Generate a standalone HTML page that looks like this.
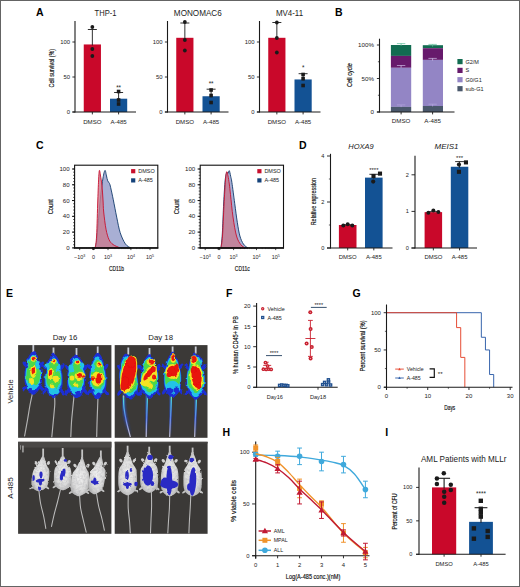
<!DOCTYPE html>
<html><head><meta charset="utf-8"><title>Figure</title>
<style>
html,body{margin:0;padding:0;background:#fff;}
body{width:520px;height:587px;overflow:hidden;}
svg{display:block;font-family:"Liberation Sans",Arial,sans-serif;}
</style></head><body>
<svg width="520" height="587" viewBox="0 0 520 587">
<defs>
<filter id="b1" x="-20%" y="-20%" width="140%" height="140%"><feTurbulence type="fractalNoise" baseFrequency="0.16" numOctaves="2" seed="7" result="n"/><feDisplacementMap in="SourceGraphic" in2="n" scale="3.4" xChannelSelector="R" yChannelSelector="G"/><feGaussianBlur stdDeviation="0.5"/></filter>
<filter id="w1" x="-20%" y="-20%" width="140%" height="140%"><feTurbulence type="fractalNoise" baseFrequency="0.2" numOctaves="2" seed="3" result="n"/><feDisplacementMap in="SourceGraphic" in2="n" scale="2.2" xChannelSelector="R" yChannelSelector="G"/><feGaussianBlur stdDeviation="0.4"/></filter>
<filter id="b2" x="-20%" y="-20%" width="140%" height="140%"><feGaussianBlur stdDeviation="0.9"/></filter>
<filter id="b0" x="-20%" y="-20%" width="140%" height="140%"><feGaussianBlur stdDeviation="0.35"/></filter>
<filter id="furf" x="0" y="0" width="100%" height="100%"><feTurbulence type="fractalNoise" baseFrequency="0.42" numOctaves="2" seed="5" result="t"/><feColorMatrix in="t" type="matrix" values="0 0 0 0 0.45  0 0 0 0 0.45  0 0 0 0 0.47  1.3 0 0 0 -0.48" result="dark"/><feComposite in="dark" in2="SourceGraphic" operator="in" result="tex"/><feMerge><feMergeNode in="SourceGraphic"/><feMergeNode in="tex"/></feMerge></filter>
<filter id="bgn" x="0" y="0" width="100%" height="100%"><feTurbulence type="fractalNoise" baseFrequency="0.3" numOctaves="2" seed="11" result="t"/><feColorMatrix in="t" type="matrix" values="0 0 0 0 0.42  0 0 0 0 0.42  0 0 0 0 0.42  0.8 0 0 0 -0.3" result="l"/><feComposite in="l" in2="SourceGraphic" operator="in" result="tex"/><feMerge><feMergeNode in="SourceGraphic"/><feMergeNode in="tex"/></feMerge></filter>
<linearGradient id="tg" gradientUnits="userSpaceOnUse" x1="0" y1="394" x2="0" y2="437"><stop offset="0" stop-color="#7be06a"/><stop offset="0.18" stop-color="#4fd3e6"/><stop offset="0.55" stop-color="#5d83ea"/><stop offset="0.85" stop-color="#a9acd8"/><stop offset="1" stop-color="#c4c4d4"/></linearGradient>
<linearGradient id="tgg" gradientUnits="userSpaceOnUse" x1="0" y1="394" x2="0" y2="437"><stop offset="0" stop-color="#2a62e0" stop-opacity="0.9"/><stop offset="0.6" stop-color="#2a4fd8" stop-opacity="0.7"/><stop offset="1" stop-color="#2a4fd8" stop-opacity="0"/></linearGradient>
<radialGradient id="fur" cx="50%" cy="50%" r="60%"><stop offset="0" stop-color="#f2f2f2"/><stop offset="0.65" stop-color="#dadada"/><stop offset="1" stop-color="#a8a8a8"/></radialGradient>
</defs>
<rect x="0" y="0" width="520" height="587" fill="#fff"/>
<text transform="translate(36.00,15.50)" font-size="10.5" text-anchor="start" fill="#000" font-weight="bold" font-style="normal" >A</text>
<text transform="translate(105.50,15.50) scale(0.9244284979356013,1)" font-size="8.2" text-anchor="middle" fill="#222" font-weight="normal" font-style="normal" >THP-1</text>
<rect x="83.75" y="44.45" width="17.20" height="67.55" fill="#c9082a" />
<rect x="110.00" y="98.70" width="17.20" height="13.30" fill="#135294" />
<line x1="75.00" y1="21.00" x2="75.00" y2="112.50" stroke="#1a1a1a" stroke-width="1.1" />
<line x1="72.40" y1="112.00" x2="136.00" y2="112.00" stroke="#1a1a1a" stroke-width="1.1" />
<line x1="72.40" y1="112.00" x2="75.00" y2="112.00" stroke="#1a1a1a" stroke-width="0.9" />
<text transform="translate(70.00,114.10)" font-size="5.9" text-anchor="end" fill="#222" font-weight="normal" font-style="normal" >0</text>
<line x1="72.40" y1="77.00" x2="75.00" y2="77.00" stroke="#1a1a1a" stroke-width="0.9" />
<text transform="translate(70.00,79.10)" font-size="5.9" text-anchor="end" fill="#222" font-weight="normal" font-style="normal" >50</text>
<line x1="72.40" y1="42.00" x2="75.00" y2="42.00" stroke="#1a1a1a" stroke-width="0.9" />
<text transform="translate(70.00,44.10)" font-size="5.9" text-anchor="end" fill="#222" font-weight="normal" font-style="normal" >100</text>
<line x1="92.35" y1="112.00" x2="92.35" y2="114.40" stroke="#1a1a1a" stroke-width="0.9" />
<line x1="118.60" y1="112.00" x2="118.60" y2="114.40" stroke="#1a1a1a" stroke-width="0.9" />
<text transform="translate(92.35,123.80)" font-size="6.1" text-anchor="middle" fill="#222" font-weight="normal" font-style="normal" >DMSO</text>
<text transform="translate(118.60,123.80)" font-size="6.1" text-anchor="middle" fill="#222" font-weight="normal" font-style="normal" >A-485</text>
<line x1="92.35" y1="29.50" x2="92.35" y2="45.45" stroke="#1a1a1a" stroke-width="0.9" />
<line x1="87.85" y1="29.50" x2="96.85" y2="29.50" stroke="#1a1a1a" stroke-width="0.9" />
<circle cx="92.35" cy="27.00" r="1.90" fill="#1a1a1a" />
<circle cx="92.35" cy="49.00" r="1.90" fill="#1a1a1a" />
<circle cx="92.35" cy="56.00" r="1.90" fill="#1a1a1a" />
<line x1="118.60" y1="92.50" x2="118.60" y2="99.70" stroke="#1a1a1a" stroke-width="0.9" />
<line x1="114.10" y1="92.50" x2="123.10" y2="92.50" stroke="#1a1a1a" stroke-width="0.9" />
<rect x="116.80" y="89.70" width="3.60" height="3.60" fill="#1a1a1a" />
<rect x="116.80" y="98.20" width="3.60" height="3.60" fill="#1a1a1a" />
<rect x="116.80" y="102.20" width="3.60" height="3.60" fill="#1a1a1a" />
<text transform="translate(118.60,89.80)" font-size="6.3" text-anchor="middle" fill="#222" font-weight="normal" font-style="normal" >**</text>
<text transform="translate(197.80,15.50) scale(0.9939881834477673,1)" font-size="8.2" text-anchor="middle" fill="#222" font-weight="normal" font-style="normal" >MONOMAC6</text>
<rect x="176.25" y="37.80" width="17.20" height="74.20" fill="#c9082a" />
<rect x="202.50" y="96.25" width="17.20" height="15.75" fill="#135294" />
<line x1="167.50" y1="21.00" x2="167.50" y2="112.50" stroke="#1a1a1a" stroke-width="1.1" />
<line x1="164.90" y1="112.00" x2="228.50" y2="112.00" stroke="#1a1a1a" stroke-width="1.1" />
<line x1="164.90" y1="112.00" x2="167.50" y2="112.00" stroke="#1a1a1a" stroke-width="0.9" />
<text transform="translate(162.50,114.10)" font-size="5.9" text-anchor="end" fill="#222" font-weight="normal" font-style="normal" >0</text>
<line x1="164.90" y1="77.00" x2="167.50" y2="77.00" stroke="#1a1a1a" stroke-width="0.9" />
<text transform="translate(162.50,79.10)" font-size="5.9" text-anchor="end" fill="#222" font-weight="normal" font-style="normal" >50</text>
<line x1="164.90" y1="42.00" x2="167.50" y2="42.00" stroke="#1a1a1a" stroke-width="0.9" />
<text transform="translate(162.50,44.10)" font-size="5.9" text-anchor="end" fill="#222" font-weight="normal" font-style="normal" >100</text>
<line x1="184.85" y1="112.00" x2="184.85" y2="114.40" stroke="#1a1a1a" stroke-width="0.9" />
<line x1="211.10" y1="112.00" x2="211.10" y2="114.40" stroke="#1a1a1a" stroke-width="0.9" />
<text transform="translate(184.85,123.80)" font-size="6.1" text-anchor="middle" fill="#222" font-weight="normal" font-style="normal" >DMSO</text>
<text transform="translate(211.10,123.80)" font-size="6.1" text-anchor="middle" fill="#222" font-weight="normal" font-style="normal" >A-485</text>
<line x1="184.85" y1="23.00" x2="184.85" y2="38.80" stroke="#1a1a1a" stroke-width="0.9" />
<line x1="180.35" y1="23.00" x2="189.35" y2="23.00" stroke="#1a1a1a" stroke-width="0.9" />
<circle cx="184.85" cy="22.00" r="1.90" fill="#1a1a1a" />
<circle cx="184.85" cy="40.00" r="1.90" fill="#1a1a1a" />
<circle cx="184.85" cy="50.50" r="1.90" fill="#1a1a1a" />
<line x1="211.10" y1="89.20" x2="211.10" y2="97.25" stroke="#1a1a1a" stroke-width="0.9" />
<line x1="206.60" y1="89.20" x2="215.60" y2="89.20" stroke="#1a1a1a" stroke-width="0.9" />
<rect x="209.30" y="88.20" width="3.60" height="3.60" fill="#1a1a1a" />
<rect x="209.30" y="93.70" width="3.60" height="3.60" fill="#1a1a1a" />
<rect x="209.30" y="100.70" width="3.60" height="3.60" fill="#1a1a1a" />
<text transform="translate(211.10,86.40)" font-size="6.3" text-anchor="middle" fill="#222" font-weight="normal" font-style="normal" >**</text>
<text transform="translate(289.50,15.50) scale(0.9679144801296188,1)" font-size="8.2" text-anchor="middle" fill="#222" font-weight="normal" font-style="normal" >MV4-11</text>
<rect x="268.25" y="37.80" width="17.20" height="74.20" fill="#c9082a" />
<rect x="294.50" y="79.45" width="17.20" height="32.55" fill="#135294" />
<line x1="259.50" y1="21.00" x2="259.50" y2="112.50" stroke="#1a1a1a" stroke-width="1.1" />
<line x1="256.90" y1="112.00" x2="320.50" y2="112.00" stroke="#1a1a1a" stroke-width="1.1" />
<line x1="256.90" y1="112.00" x2="259.50" y2="112.00" stroke="#1a1a1a" stroke-width="0.9" />
<text transform="translate(254.50,114.10)" font-size="5.9" text-anchor="end" fill="#222" font-weight="normal" font-style="normal" >0</text>
<line x1="256.90" y1="77.00" x2="259.50" y2="77.00" stroke="#1a1a1a" stroke-width="0.9" />
<text transform="translate(254.50,79.10)" font-size="5.9" text-anchor="end" fill="#222" font-weight="normal" font-style="normal" >50</text>
<line x1="256.90" y1="42.00" x2="259.50" y2="42.00" stroke="#1a1a1a" stroke-width="0.9" />
<text transform="translate(254.50,44.10)" font-size="5.9" text-anchor="end" fill="#222" font-weight="normal" font-style="normal" >100</text>
<line x1="276.85" y1="112.00" x2="276.85" y2="114.40" stroke="#1a1a1a" stroke-width="0.9" />
<line x1="303.10" y1="112.00" x2="303.10" y2="114.40" stroke="#1a1a1a" stroke-width="0.9" />
<text transform="translate(276.85,123.80)" font-size="6.1" text-anchor="middle" fill="#222" font-weight="normal" font-style="normal" >DMSO</text>
<text transform="translate(303.10,123.80)" font-size="6.1" text-anchor="middle" fill="#222" font-weight="normal" font-style="normal" >A-485</text>
<line x1="276.85" y1="22.50" x2="276.85" y2="38.80" stroke="#1a1a1a" stroke-width="0.9" />
<line x1="272.35" y1="22.50" x2="281.35" y2="22.50" stroke="#1a1a1a" stroke-width="0.9" />
<circle cx="276.85" cy="22.50" r="1.90" fill="#1a1a1a" />
<circle cx="276.85" cy="38.00" r="1.90" fill="#1a1a1a" />
<circle cx="276.85" cy="52.50" r="1.90" fill="#1a1a1a" />
<line x1="303.10" y1="73.70" x2="303.10" y2="80.45" stroke="#1a1a1a" stroke-width="0.9" />
<line x1="298.60" y1="73.70" x2="307.60" y2="73.70" stroke="#1a1a1a" stroke-width="0.9" />
<rect x="301.30" y="72.70" width="3.60" height="3.60" fill="#1a1a1a" />
<rect x="301.30" y="76.90" width="3.60" height="3.60" fill="#1a1a1a" />
<rect x="301.30" y="83.70" width="3.60" height="3.60" fill="#1a1a1a" />
<text transform="translate(303.10,70.10)" font-size="6.3" text-anchor="middle" fill="#222" font-weight="normal" font-style="normal" >*</text>
<text transform="translate(54.40,68.20) rotate(-90) scale(0.6851,1)" font-size="7.8" text-anchor="middle" fill="#111" stroke="#111" stroke-width="0.18" stroke-linejoin="round">Cell survival (%)</text>
<text transform="translate(335.00,15.50)" font-size="10.5" text-anchor="start" fill="#000" font-weight="bold" font-style="normal" >B</text>
<rect x="390.90" y="45.00" width="20.30" height="10.90" fill="#126c51" />
<rect x="390.90" y="55.90" width="20.30" height="11.90" fill="#671a6c" />
<rect x="390.90" y="67.80" width="20.30" height="39.10" fill="#9385c5" />
<rect x="390.90" y="106.90" width="20.30" height="5.10" fill="#4a586c" />
<rect x="422.80" y="45.20" width="20.20" height="3.00" fill="#126c51" />
<rect x="422.80" y="48.20" width="20.20" height="11.70" fill="#671a6c" />
<rect x="422.80" y="59.90" width="20.20" height="46.10" fill="#9385c5" />
<rect x="422.80" y="106.00" width="20.20" height="6.00" fill="#4a586c" />
<line x1="396.90" y1="43.60" x2="405.30" y2="43.60" stroke="#5bbf98" stroke-width="0.7" />
<line x1="401.10" y1="43.60" x2="401.10" y2="45.80" stroke="#5bbf98" stroke-width="0.8" />
<line x1="396.90" y1="65.50" x2="405.30" y2="65.50" stroke="#cdbde6" stroke-width="0.7" />
<line x1="401.10" y1="65.50" x2="401.10" y2="67.70" stroke="#cdbde6" stroke-width="0.8" />
<line x1="396.90" y1="104.90" x2="405.30" y2="104.90" stroke="#b3a6dc" stroke-width="0.7" />
<line x1="401.10" y1="104.90" x2="401.10" y2="107.10" stroke="#b3a6dc" stroke-width="0.8" />
<line x1="428.40" y1="44.40" x2="436.80" y2="44.40" stroke="#5bbf98" stroke-width="0.7" />
<line x1="432.60" y1="44.40" x2="432.60" y2="46.60" stroke="#5bbf98" stroke-width="0.8" />
<line x1="428.40" y1="58.40" x2="436.80" y2="58.40" stroke="#cdbde6" stroke-width="0.7" />
<line x1="432.60" y1="58.40" x2="432.60" y2="60.60" stroke="#cdbde6" stroke-width="0.8" />
<line x1="428.40" y1="104.20" x2="436.80" y2="104.20" stroke="#b3a6dc" stroke-width="0.7" />
<line x1="432.60" y1="104.20" x2="432.60" y2="106.40" stroke="#b3a6dc" stroke-width="0.8" />
<line x1="379.50" y1="38.70" x2="379.50" y2="112.50" stroke="#1a1a1a" stroke-width="1.1" />
<line x1="376.90" y1="112.00" x2="454.50" y2="112.00" stroke="#1a1a1a" stroke-width="1.1" />
<line x1="376.90" y1="112.00" x2="379.50" y2="112.00" stroke="#1a1a1a" stroke-width="0.9" />
<text transform="translate(373.90,114.10)" font-size="6.2" text-anchor="end" fill="#222" font-weight="normal" font-style="normal" >0</text>
<line x1="376.90" y1="78.50" x2="379.50" y2="78.50" stroke="#1a1a1a" stroke-width="0.9" />
<text transform="translate(373.90,80.60)" font-size="6.2" text-anchor="end" fill="#222" font-weight="normal" font-style="normal" >50%</text>
<line x1="376.90" y1="45.00" x2="379.50" y2="45.00" stroke="#1a1a1a" stroke-width="0.9" />
<text transform="translate(373.90,47.10)" font-size="6.2" text-anchor="end" fill="#222" font-weight="normal" font-style="normal" >100%</text>
<line x1="377.90" y1="95.25" x2="379.50" y2="95.25" stroke="#1a1a1a" stroke-width="0.7" />
<line x1="377.90" y1="61.75" x2="379.50" y2="61.75" stroke="#1a1a1a" stroke-width="0.7" />
<line x1="401.10" y1="112.00" x2="401.10" y2="114.40" stroke="#1a1a1a" stroke-width="0.9" />
<text transform="translate(401.10,123.40)" font-size="6.2" text-anchor="middle" fill="#222" font-weight="normal" font-style="normal" >DMSO</text>
<line x1="432.60" y1="112.00" x2="432.60" y2="114.40" stroke="#1a1a1a" stroke-width="0.9" />
<text transform="translate(432.60,123.40)" font-size="6.2" text-anchor="middle" fill="#222" font-weight="normal" font-style="normal" >A-485</text>
<text transform="translate(351.90,75.10) rotate(-90) scale(0.7131,1)" font-size="7.8" text-anchor="middle" fill="#111" stroke="#111" stroke-width="0.18" stroke-linejoin="round">Cell cycle</text>
<rect x="457.40" y="59.00" width="5.20" height="5.20" fill="#126c51" />
<text transform="translate(465.50,63.50)" font-size="5.5" text-anchor="start" fill="#222" font-weight="normal" font-style="normal" >G2/M</text>
<rect x="457.40" y="67.80" width="5.20" height="5.20" fill="#671a6c" />
<text transform="translate(465.50,72.30)" font-size="5.5" text-anchor="start" fill="#222" font-weight="normal" font-style="normal" >S</text>
<rect x="457.40" y="77.10" width="5.20" height="5.20" fill="#9385c5" />
<text transform="translate(465.50,81.60)" font-size="5.5" text-anchor="start" fill="#222" font-weight="normal" font-style="normal" >G0/G1</text>
<rect x="457.40" y="86.10" width="5.20" height="5.20" fill="#4a586c" />
<text transform="translate(465.50,90.60)" font-size="5.5" text-anchor="start" fill="#222" font-weight="normal" font-style="normal" >sub-G1</text>
<text transform="translate(36.00,149.00)" font-size="10.5" text-anchor="start" fill="#000" font-weight="bold" font-style="normal" >C</text>
<path d="M95.10,247.90 C95.32,247.08 95.97,246.15 96.40,243.00 C96.83,239.85 97.23,234.17 97.70,229.00 C98.17,223.83 98.68,217.73 99.20,212.00 C99.72,206.27 100.17,200.27 100.80,194.60 C101.43,188.93 102.30,182.03 103.00,178.00 C103.70,173.97 104.42,170.73 105.00,170.40 C105.58,170.07 106.05,174.27 106.50,176.00 C106.95,177.73 107.20,179.55 107.70,180.80 C108.20,182.05 109.00,182.35 109.50,183.50 C110.00,184.65 110.07,184.98 110.70,187.70 C111.33,190.42 112.30,194.90 113.30,199.80 C114.30,204.70 115.55,211.62 116.70,217.10 C117.85,222.58 118.75,228.23 120.20,232.70 C121.65,237.17 123.67,241.37 125.40,243.90 C127.13,246.43 129.73,247.23 130.60,247.90 Z" fill="#9ea6cf" fill-opacity="0.9" stroke="#123a6b" stroke-width="0.9" stroke-linejoin="round"/>
<path d="M95.10,247.90 C95.35,245.92 96.15,243.98 96.60,236.00 C97.05,228.02 97.45,209.67 97.80,200.00 C98.15,190.33 98.43,182.93 98.70,178.00 C98.97,173.07 99.12,170.90 99.40,170.40 C99.68,169.90 99.97,172.40 100.40,175.00 C100.83,177.60 101.57,181.83 102.00,186.00 C102.43,190.17 102.72,195.67 103.00,200.00 C103.28,204.33 103.20,207.13 103.70,212.00 C104.20,216.87 105.12,224.60 106.00,229.20 C106.88,233.80 107.83,237.05 109.00,239.60 C110.17,242.15 111.17,243.12 113.00,244.50 C114.83,245.88 118.83,247.33 120.00,247.90 Z" fill="#c87a8e" fill-opacity="0.8" stroke="#c8102e" stroke-width="0.9" stroke-linejoin="round"/>
<rect x="74.6" y="165.2" width="83.20" height="82.70" fill="none" stroke="#111" stroke-width="1.1"/>
<line x1="74.10" y1="247.90" x2="158.30" y2="247.90" stroke="#111" stroke-width="1.5" />
<line x1="72.00" y1="247.90" x2="74.60" y2="247.90" stroke="#111" stroke-width="1.0" />
<text transform="translate(69.60,250.00)" font-size="6.1" text-anchor="end" fill="#222" font-weight="normal" font-style="normal" >0</text>
<line x1="72.00" y1="232.12" x2="74.60" y2="232.12" stroke="#111" stroke-width="1.0" />
<text transform="translate(69.60,234.22)" font-size="6.1" text-anchor="end" fill="#222" font-weight="normal" font-style="normal" >20</text>
<line x1="72.00" y1="216.34" x2="74.60" y2="216.34" stroke="#111" stroke-width="1.0" />
<text transform="translate(69.60,218.44)" font-size="6.1" text-anchor="end" fill="#222" font-weight="normal" font-style="normal" >40</text>
<line x1="72.00" y1="200.56" x2="74.60" y2="200.56" stroke="#111" stroke-width="1.0" />
<text transform="translate(69.60,202.66)" font-size="6.1" text-anchor="end" fill="#222" font-weight="normal" font-style="normal" >60</text>
<line x1="72.00" y1="184.78" x2="74.60" y2="184.78" stroke="#111" stroke-width="1.0" />
<text transform="translate(69.60,186.88)" font-size="6.1" text-anchor="end" fill="#222" font-weight="normal" font-style="normal" >80</text>
<line x1="72.00" y1="169.00" x2="74.60" y2="169.00" stroke="#111" stroke-width="1.0" />
<text transform="translate(69.60,171.10)" font-size="6.1" text-anchor="end" fill="#222" font-weight="normal" font-style="normal" >100</text>
<line x1="73.10" y1="247.90" x2="74.60" y2="247.90" stroke="#111" stroke-width="0.7" />
<line x1="73.10" y1="244.74" x2="74.60" y2="244.74" stroke="#111" stroke-width="0.7" />
<line x1="73.10" y1="241.59" x2="74.60" y2="241.59" stroke="#111" stroke-width="0.7" />
<line x1="73.10" y1="238.43" x2="74.60" y2="238.43" stroke="#111" stroke-width="0.7" />
<line x1="73.10" y1="235.28" x2="74.60" y2="235.28" stroke="#111" stroke-width="0.7" />
<line x1="73.10" y1="232.12" x2="74.60" y2="232.12" stroke="#111" stroke-width="0.7" />
<line x1="73.10" y1="228.96" x2="74.60" y2="228.96" stroke="#111" stroke-width="0.7" />
<line x1="73.10" y1="225.81" x2="74.60" y2="225.81" stroke="#111" stroke-width="0.7" />
<line x1="73.10" y1="222.65" x2="74.60" y2="222.65" stroke="#111" stroke-width="0.7" />
<line x1="73.10" y1="219.50" x2="74.60" y2="219.50" stroke="#111" stroke-width="0.7" />
<line x1="73.10" y1="216.34" x2="74.60" y2="216.34" stroke="#111" stroke-width="0.7" />
<line x1="73.10" y1="213.18" x2="74.60" y2="213.18" stroke="#111" stroke-width="0.7" />
<line x1="73.10" y1="210.03" x2="74.60" y2="210.03" stroke="#111" stroke-width="0.7" />
<line x1="73.10" y1="206.87" x2="74.60" y2="206.87" stroke="#111" stroke-width="0.7" />
<line x1="73.10" y1="203.72" x2="74.60" y2="203.72" stroke="#111" stroke-width="0.7" />
<line x1="73.10" y1="200.56" x2="74.60" y2="200.56" stroke="#111" stroke-width="0.7" />
<line x1="73.10" y1="197.40" x2="74.60" y2="197.40" stroke="#111" stroke-width="0.7" />
<line x1="73.10" y1="194.25" x2="74.60" y2="194.25" stroke="#111" stroke-width="0.7" />
<line x1="73.10" y1="191.09" x2="74.60" y2="191.09" stroke="#111" stroke-width="0.7" />
<line x1="73.10" y1="187.94" x2="74.60" y2="187.94" stroke="#111" stroke-width="0.7" />
<line x1="73.10" y1="184.78" x2="74.60" y2="184.78" stroke="#111" stroke-width="0.7" />
<line x1="73.10" y1="181.62" x2="74.60" y2="181.62" stroke="#111" stroke-width="0.7" />
<line x1="73.10" y1="178.47" x2="74.60" y2="178.47" stroke="#111" stroke-width="0.7" />
<line x1="73.10" y1="175.31" x2="74.60" y2="175.31" stroke="#111" stroke-width="0.7" />
<line x1="73.10" y1="172.16" x2="74.60" y2="172.16" stroke="#111" stroke-width="0.7" />
<line x1="73.10" y1="169.00" x2="74.60" y2="169.00" stroke="#111" stroke-width="0.7" />
<line x1="79.70" y1="247.90" x2="79.70" y2="250.10" stroke="#111" stroke-width="0.8" />
<text transform="translate(79.70,259)" font-size="5.4" text-anchor="middle" fill="#222">−10<tspan font-size="3.6" dy="-2">3</tspan></text>
<line x1="93.40" y1="247.90" x2="93.40" y2="250.10" stroke="#111" stroke-width="0.8" />
<text transform="translate(93.40,259.00)" font-size="5.4" text-anchor="middle" fill="#222" font-weight="normal" font-style="normal" >0</text>
<line x1="108.00" y1="247.90" x2="108.00" y2="250.10" stroke="#111" stroke-width="0.8" />
<text transform="translate(108.00,259)" font-size="5.4" text-anchor="middle" fill="#222">10<tspan font-size="3.6" dy="-2">3</tspan></text>
<line x1="130.90" y1="247.90" x2="130.90" y2="250.10" stroke="#111" stroke-width="0.8" />
<text transform="translate(130.90,259)" font-size="5.4" text-anchor="middle" fill="#222">10<tspan font-size="3.6" dy="-2">4</tspan></text>
<line x1="150.00" y1="247.90" x2="150.00" y2="250.10" stroke="#111" stroke-width="0.8" />
<text transform="translate(150.00,259)" font-size="5.4" text-anchor="middle" fill="#222">10<tspan font-size="3.6" dy="-2">5</tspan></text>
<line x1="114.89" y1="247.90" x2="114.89" y2="249.10" stroke="#111" stroke-width="0.4" />
<line x1="118.93" y1="247.90" x2="118.93" y2="249.10" stroke="#111" stroke-width="0.4" />
<line x1="121.79" y1="247.90" x2="121.79" y2="249.10" stroke="#111" stroke-width="0.4" />
<line x1="124.01" y1="247.90" x2="124.01" y2="249.10" stroke="#111" stroke-width="0.4" />
<line x1="125.82" y1="247.90" x2="125.82" y2="249.10" stroke="#111" stroke-width="0.4" />
<line x1="127.35" y1="247.90" x2="127.35" y2="249.10" stroke="#111" stroke-width="0.4" />
<line x1="128.68" y1="247.90" x2="128.68" y2="249.10" stroke="#111" stroke-width="0.4" />
<line x1="129.85" y1="247.90" x2="129.85" y2="249.10" stroke="#111" stroke-width="0.4" />
<line x1="136.65" y1="247.90" x2="136.65" y2="249.10" stroke="#111" stroke-width="0.4" />
<line x1="140.01" y1="247.90" x2="140.01" y2="249.10" stroke="#111" stroke-width="0.4" />
<line x1="142.40" y1="247.90" x2="142.40" y2="249.10" stroke="#111" stroke-width="0.4" />
<line x1="144.25" y1="247.90" x2="144.25" y2="249.10" stroke="#111" stroke-width="0.4" />
<line x1="145.76" y1="247.90" x2="145.76" y2="249.10" stroke="#111" stroke-width="0.4" />
<line x1="147.04" y1="247.90" x2="147.04" y2="249.10" stroke="#111" stroke-width="0.4" />
<line x1="148.15" y1="247.90" x2="148.15" y2="249.10" stroke="#111" stroke-width="0.4" />
<line x1="149.13" y1="247.90" x2="149.13" y2="249.10" stroke="#111" stroke-width="0.4" />
<line x1="94.86" y1="247.90" x2="94.86" y2="248.90" stroke="#111" stroke-width="0.35" />
<line x1="92.03" y1="247.90" x2="92.03" y2="248.90" stroke="#111" stroke-width="0.35" />
<line x1="96.32" y1="247.90" x2="96.32" y2="248.90" stroke="#111" stroke-width="0.35" />
<line x1="90.66" y1="247.90" x2="90.66" y2="248.90" stroke="#111" stroke-width="0.35" />
<line x1="97.78" y1="247.90" x2="97.78" y2="248.90" stroke="#111" stroke-width="0.35" />
<line x1="89.29" y1="247.90" x2="89.29" y2="248.90" stroke="#111" stroke-width="0.35" />
<line x1="99.24" y1="247.90" x2="99.24" y2="248.90" stroke="#111" stroke-width="0.35" />
<line x1="87.92" y1="247.90" x2="87.92" y2="248.90" stroke="#111" stroke-width="0.35" />
<line x1="100.70" y1="247.90" x2="100.70" y2="248.90" stroke="#111" stroke-width="0.35" />
<line x1="86.55" y1="247.90" x2="86.55" y2="248.90" stroke="#111" stroke-width="0.35" />
<line x1="102.16" y1="247.90" x2="102.16" y2="248.90" stroke="#111" stroke-width="0.35" />
<line x1="85.18" y1="247.90" x2="85.18" y2="248.90" stroke="#111" stroke-width="0.35" />
<line x1="103.62" y1="247.90" x2="103.62" y2="248.90" stroke="#111" stroke-width="0.35" />
<line x1="83.81" y1="247.90" x2="83.81" y2="248.90" stroke="#111" stroke-width="0.35" />
<line x1="105.08" y1="247.90" x2="105.08" y2="248.90" stroke="#111" stroke-width="0.35" />
<line x1="82.44" y1="247.90" x2="82.44" y2="248.90" stroke="#111" stroke-width="0.35" />
<line x1="106.54" y1="247.90" x2="106.54" y2="248.90" stroke="#111" stroke-width="0.35" />
<line x1="81.07" y1="247.90" x2="81.07" y2="248.90" stroke="#111" stroke-width="0.35" />
<rect x="92.00" y="247.00" width="2.80" height="2.60" fill="#111" />
<text transform="translate(116.40,271.00) scale(0.6329,1)" font-size="7.8" text-anchor="middle" fill="#111" stroke="#111" stroke-width="0.18" stroke-linejoin="round">CD11b</text>
<text transform="translate(53.00,206.70) rotate(-90) scale(0.7351,1)" font-size="7.8" text-anchor="middle" fill="#111" stroke="#111" stroke-width="0.18" stroke-linejoin="round">Count</text>
<rect x="131.10" y="169.10" width="4.20" height="4.20" fill="#c8102e" />
<text transform="translate(138.20,173.20)" font-size="5.5" text-anchor="start" fill="#222" font-weight="normal" font-style="normal" >DMSO</text>
<rect x="131.10" y="178.30" width="4.20" height="4.20" fill="#14427a" />
<text transform="translate(138.20,182.40)" font-size="5.5" text-anchor="start" fill="#222" font-weight="normal" font-style="normal" >A-485</text>
<path d="M221.00,247.90 C221.22,245.58 221.85,241.48 222.30,234.00 C222.75,226.52 223.22,212.00 223.70,203.00 C224.18,194.00 224.68,185.08 225.20,180.00 C225.72,174.92 226.33,173.58 226.80,172.50 C227.27,171.42 227.58,173.80 228.00,173.50 C228.42,173.20 228.87,170.28 229.30,170.70 C229.73,171.12 230.17,174.03 230.60,176.00 C231.03,177.97 231.22,177.95 231.90,182.50 C232.58,187.05 233.80,196.67 234.70,203.30 C235.60,209.93 236.43,216.85 237.30,222.30 C238.17,227.75 238.88,232.38 239.90,236.00 C240.92,239.62 242.12,242.02 243.40,244.00 C244.68,245.98 246.90,247.25 247.60,247.90 Z" fill="#9ea6cf" fill-opacity="0.9" stroke="#123a6b" stroke-width="0.9" stroke-linejoin="round"/>
<path d="M221.00,247.90 C221.25,245.92 222.00,243.15 222.50,236.00 C223.00,228.85 223.50,214.33 224.00,205.00 C224.50,195.67 225.05,185.53 225.50,180.00 C225.95,174.47 226.28,172.47 226.70,171.80 C227.12,171.13 227.57,173.97 228.00,176.00 C228.43,178.03 228.88,180.90 229.30,184.00 C229.72,187.10 229.88,189.10 230.50,194.60 C231.12,200.10 232.00,210.10 233.00,217.00 C234.00,223.90 235.18,231.37 236.50,236.00 C237.82,240.63 239.45,242.82 240.90,244.80 C242.35,246.78 244.48,247.38 245.20,247.90 Z" fill="#c87a8e" fill-opacity="0.8" stroke="#c8102e" stroke-width="0.9" stroke-linejoin="round"/>
<rect x="200.2" y="165.2" width="83.30" height="82.70" fill="none" stroke="#111" stroke-width="1.1"/>
<line x1="199.70" y1="247.90" x2="284.00" y2="247.90" stroke="#111" stroke-width="1.5" />
<line x1="197.60" y1="247.90" x2="200.20" y2="247.90" stroke="#111" stroke-width="1.0" />
<text transform="translate(195.20,250.00)" font-size="6.1" text-anchor="end" fill="#222" font-weight="normal" font-style="normal" >0</text>
<line x1="197.60" y1="232.12" x2="200.20" y2="232.12" stroke="#111" stroke-width="1.0" />
<text transform="translate(195.20,234.22)" font-size="6.1" text-anchor="end" fill="#222" font-weight="normal" font-style="normal" >20</text>
<line x1="197.60" y1="216.34" x2="200.20" y2="216.34" stroke="#111" stroke-width="1.0" />
<text transform="translate(195.20,218.44)" font-size="6.1" text-anchor="end" fill="#222" font-weight="normal" font-style="normal" >40</text>
<line x1="197.60" y1="200.56" x2="200.20" y2="200.56" stroke="#111" stroke-width="1.0" />
<text transform="translate(195.20,202.66)" font-size="6.1" text-anchor="end" fill="#222" font-weight="normal" font-style="normal" >60</text>
<line x1="197.60" y1="184.78" x2="200.20" y2="184.78" stroke="#111" stroke-width="1.0" />
<text transform="translate(195.20,186.88)" font-size="6.1" text-anchor="end" fill="#222" font-weight="normal" font-style="normal" >80</text>
<line x1="197.60" y1="169.00" x2="200.20" y2="169.00" stroke="#111" stroke-width="1.0" />
<text transform="translate(195.20,171.10)" font-size="6.1" text-anchor="end" fill="#222" font-weight="normal" font-style="normal" >100</text>
<line x1="198.70" y1="247.90" x2="200.20" y2="247.90" stroke="#111" stroke-width="0.7" />
<line x1="198.70" y1="244.74" x2="200.20" y2="244.74" stroke="#111" stroke-width="0.7" />
<line x1="198.70" y1="241.59" x2="200.20" y2="241.59" stroke="#111" stroke-width="0.7" />
<line x1="198.70" y1="238.43" x2="200.20" y2="238.43" stroke="#111" stroke-width="0.7" />
<line x1="198.70" y1="235.28" x2="200.20" y2="235.28" stroke="#111" stroke-width="0.7" />
<line x1="198.70" y1="232.12" x2="200.20" y2="232.12" stroke="#111" stroke-width="0.7" />
<line x1="198.70" y1="228.96" x2="200.20" y2="228.96" stroke="#111" stroke-width="0.7" />
<line x1="198.70" y1="225.81" x2="200.20" y2="225.81" stroke="#111" stroke-width="0.7" />
<line x1="198.70" y1="222.65" x2="200.20" y2="222.65" stroke="#111" stroke-width="0.7" />
<line x1="198.70" y1="219.50" x2="200.20" y2="219.50" stroke="#111" stroke-width="0.7" />
<line x1="198.70" y1="216.34" x2="200.20" y2="216.34" stroke="#111" stroke-width="0.7" />
<line x1="198.70" y1="213.18" x2="200.20" y2="213.18" stroke="#111" stroke-width="0.7" />
<line x1="198.70" y1="210.03" x2="200.20" y2="210.03" stroke="#111" stroke-width="0.7" />
<line x1="198.70" y1="206.87" x2="200.20" y2="206.87" stroke="#111" stroke-width="0.7" />
<line x1="198.70" y1="203.72" x2="200.20" y2="203.72" stroke="#111" stroke-width="0.7" />
<line x1="198.70" y1="200.56" x2="200.20" y2="200.56" stroke="#111" stroke-width="0.7" />
<line x1="198.70" y1="197.40" x2="200.20" y2="197.40" stroke="#111" stroke-width="0.7" />
<line x1="198.70" y1="194.25" x2="200.20" y2="194.25" stroke="#111" stroke-width="0.7" />
<line x1="198.70" y1="191.09" x2="200.20" y2="191.09" stroke="#111" stroke-width="0.7" />
<line x1="198.70" y1="187.94" x2="200.20" y2="187.94" stroke="#111" stroke-width="0.7" />
<line x1="198.70" y1="184.78" x2="200.20" y2="184.78" stroke="#111" stroke-width="0.7" />
<line x1="198.70" y1="181.62" x2="200.20" y2="181.62" stroke="#111" stroke-width="0.7" />
<line x1="198.70" y1="178.47" x2="200.20" y2="178.47" stroke="#111" stroke-width="0.7" />
<line x1="198.70" y1="175.31" x2="200.20" y2="175.31" stroke="#111" stroke-width="0.7" />
<line x1="198.70" y1="172.16" x2="200.20" y2="172.16" stroke="#111" stroke-width="0.7" />
<line x1="198.70" y1="169.00" x2="200.20" y2="169.00" stroke="#111" stroke-width="0.7" />
<line x1="205.20" y1="247.90" x2="205.20" y2="250.10" stroke="#111" stroke-width="0.8" />
<text transform="translate(205.20,259)" font-size="5.4" text-anchor="middle" fill="#222">−10<tspan font-size="3.6" dy="-2">3</tspan></text>
<line x1="219.00" y1="247.90" x2="219.00" y2="250.10" stroke="#111" stroke-width="0.8" />
<text transform="translate(219.00,259.00)" font-size="5.4" text-anchor="middle" fill="#222" font-weight="normal" font-style="normal" >0</text>
<line x1="233.60" y1="247.90" x2="233.60" y2="250.10" stroke="#111" stroke-width="0.8" />
<text transform="translate(233.60,259)" font-size="5.4" text-anchor="middle" fill="#222">10<tspan font-size="3.6" dy="-2">3</tspan></text>
<line x1="256.50" y1="247.90" x2="256.50" y2="250.10" stroke="#111" stroke-width="0.8" />
<text transform="translate(256.50,259)" font-size="5.4" text-anchor="middle" fill="#222">10<tspan font-size="3.6" dy="-2">4</tspan></text>
<line x1="275.70" y1="247.90" x2="275.70" y2="250.10" stroke="#111" stroke-width="0.8" />
<text transform="translate(275.70,259)" font-size="5.4" text-anchor="middle" fill="#222">10<tspan font-size="3.6" dy="-2">5</tspan></text>
<line x1="240.49" y1="247.90" x2="240.49" y2="249.10" stroke="#111" stroke-width="0.4" />
<line x1="244.53" y1="247.90" x2="244.53" y2="249.10" stroke="#111" stroke-width="0.4" />
<line x1="247.39" y1="247.90" x2="247.39" y2="249.10" stroke="#111" stroke-width="0.4" />
<line x1="249.61" y1="247.90" x2="249.61" y2="249.10" stroke="#111" stroke-width="0.4" />
<line x1="251.42" y1="247.90" x2="251.42" y2="249.10" stroke="#111" stroke-width="0.4" />
<line x1="252.95" y1="247.90" x2="252.95" y2="249.10" stroke="#111" stroke-width="0.4" />
<line x1="254.28" y1="247.90" x2="254.28" y2="249.10" stroke="#111" stroke-width="0.4" />
<line x1="255.45" y1="247.90" x2="255.45" y2="249.10" stroke="#111" stroke-width="0.4" />
<line x1="262.28" y1="247.90" x2="262.28" y2="249.10" stroke="#111" stroke-width="0.4" />
<line x1="265.66" y1="247.90" x2="265.66" y2="249.10" stroke="#111" stroke-width="0.4" />
<line x1="268.06" y1="247.90" x2="268.06" y2="249.10" stroke="#111" stroke-width="0.4" />
<line x1="269.92" y1="247.90" x2="269.92" y2="249.10" stroke="#111" stroke-width="0.4" />
<line x1="271.44" y1="247.90" x2="271.44" y2="249.10" stroke="#111" stroke-width="0.4" />
<line x1="272.73" y1="247.90" x2="272.73" y2="249.10" stroke="#111" stroke-width="0.4" />
<line x1="273.84" y1="247.90" x2="273.84" y2="249.10" stroke="#111" stroke-width="0.4" />
<line x1="274.82" y1="247.90" x2="274.82" y2="249.10" stroke="#111" stroke-width="0.4" />
<line x1="220.46" y1="247.90" x2="220.46" y2="248.90" stroke="#111" stroke-width="0.35" />
<line x1="217.62" y1="247.90" x2="217.62" y2="248.90" stroke="#111" stroke-width="0.35" />
<line x1="221.92" y1="247.90" x2="221.92" y2="248.90" stroke="#111" stroke-width="0.35" />
<line x1="216.24" y1="247.90" x2="216.24" y2="248.90" stroke="#111" stroke-width="0.35" />
<line x1="223.38" y1="247.90" x2="223.38" y2="248.90" stroke="#111" stroke-width="0.35" />
<line x1="214.86" y1="247.90" x2="214.86" y2="248.90" stroke="#111" stroke-width="0.35" />
<line x1="224.84" y1="247.90" x2="224.84" y2="248.90" stroke="#111" stroke-width="0.35" />
<line x1="213.48" y1="247.90" x2="213.48" y2="248.90" stroke="#111" stroke-width="0.35" />
<line x1="226.30" y1="247.90" x2="226.30" y2="248.90" stroke="#111" stroke-width="0.35" />
<line x1="212.10" y1="247.90" x2="212.10" y2="248.90" stroke="#111" stroke-width="0.35" />
<line x1="227.76" y1="247.90" x2="227.76" y2="248.90" stroke="#111" stroke-width="0.35" />
<line x1="210.72" y1="247.90" x2="210.72" y2="248.90" stroke="#111" stroke-width="0.35" />
<line x1="229.22" y1="247.90" x2="229.22" y2="248.90" stroke="#111" stroke-width="0.35" />
<line x1="209.34" y1="247.90" x2="209.34" y2="248.90" stroke="#111" stroke-width="0.35" />
<line x1="230.68" y1="247.90" x2="230.68" y2="248.90" stroke="#111" stroke-width="0.35" />
<line x1="207.96" y1="247.90" x2="207.96" y2="248.90" stroke="#111" stroke-width="0.35" />
<line x1="232.14" y1="247.90" x2="232.14" y2="248.90" stroke="#111" stroke-width="0.35" />
<line x1="206.58" y1="247.90" x2="206.58" y2="248.90" stroke="#111" stroke-width="0.35" />
<rect x="217.60" y="247.00" width="2.80" height="2.60" fill="#111" />
<text transform="translate(242.30,271.00) scale(0.6448,1)" font-size="7.8" text-anchor="middle" fill="#111" stroke="#111" stroke-width="0.18" stroke-linejoin="round">CD11c</text>
<text transform="translate(178.50,206.70) rotate(-90) scale(0.7351,1)" font-size="7.8" text-anchor="middle" fill="#111" stroke="#111" stroke-width="0.18" stroke-linejoin="round">Count</text>
<rect x="257.30" y="169.10" width="4.20" height="4.20" fill="#c8102e" />
<text transform="translate(264.40,173.20)" font-size="5.5" text-anchor="start" fill="#222" font-weight="normal" font-style="normal" >DMSO</text>
<rect x="257.30" y="178.30" width="4.20" height="4.20" fill="#14427a" />
<text transform="translate(264.40,182.40)" font-size="5.5" text-anchor="start" fill="#222" font-weight="normal" font-style="normal" >A-485</text>
<text transform="translate(299.00,149.00)" font-size="10.5" text-anchor="start" fill="#000" font-weight="bold" font-style="normal" >D</text>
<text transform="translate(361.00,149.00)" font-size="7.5" text-anchor="middle" fill="#222" font-weight="normal" font-style="italic" >HOXA9</text>
<rect x="338.90" y="225.00" width="17.60" height="23.00" fill="#c9082a" />
<rect x="365.00" y="177.62" width="17.60" height="70.38" fill="#135294" />
<line x1="330.50" y1="153.80" x2="330.50" y2="248.50" stroke="#1a1a1a" stroke-width="1.1" />
<line x1="327.00" y1="248.00" x2="392.50" y2="248.00" stroke="#1a1a1a" stroke-width="1.1" />
<line x1="327.00" y1="248.00" x2="330.50" y2="248.00" stroke="#1a1a1a" stroke-width="0.9" />
<text transform="translate(324.30,250.00)" font-size="5.6" text-anchor="end" fill="#222" font-weight="normal" font-style="normal" >0</text>
<line x1="327.00" y1="202.00" x2="330.50" y2="202.00" stroke="#1a1a1a" stroke-width="0.9" />
<text transform="translate(324.30,204.00)" font-size="5.6" text-anchor="end" fill="#222" font-weight="normal" font-style="normal" >2</text>
<line x1="327.00" y1="156.00" x2="330.50" y2="156.00" stroke="#1a1a1a" stroke-width="0.9" />
<text transform="translate(324.30,158.00)" font-size="5.6" text-anchor="end" fill="#222" font-weight="normal" font-style="normal" >4</text>
<line x1="328.90" y1="225.00" x2="330.50" y2="225.00" stroke="#1a1a1a" stroke-width="0.7" />
<line x1="328.90" y1="179.00" x2="330.50" y2="179.00" stroke="#1a1a1a" stroke-width="0.7" />
<line x1="347.70" y1="248.00" x2="347.70" y2="250.40" stroke="#1a1a1a" stroke-width="0.9" />
<line x1="373.80" y1="248.00" x2="373.80" y2="250.40" stroke="#1a1a1a" stroke-width="0.9" />
<text transform="translate(347.70,258.50)" font-size="5.95" text-anchor="middle" fill="#222" font-weight="normal" font-style="normal" >DMSO</text>
<text transform="translate(373.80,258.50)" font-size="5.95" text-anchor="middle" fill="#222" font-weight="normal" font-style="normal" >A-485</text>
<line x1="343.70" y1="224.70" x2="351.70" y2="224.70" stroke="#1a1a1a" stroke-width="0.8" />
<circle cx="343.30" cy="225.50" r="2.00" fill="#1a1a1a" />
<circle cx="347.70" cy="224.20" r="2.00" fill="#1a1a1a" />
<circle cx="352.30" cy="225.40" r="2.00" fill="#1a1a1a" />
<line x1="373.80" y1="174.30" x2="373.80" y2="178.62" stroke="#1a1a1a" stroke-width="0.9" />
<line x1="369.40" y1="174.30" x2="378.20" y2="174.30" stroke="#1a1a1a" stroke-width="0.9" />
<rect x="371.45" y="173.95" width="4.10" height="4.10" fill="#1a1a1a" />
<rect x="377.95" y="171.55" width="4.10" height="4.10" fill="#1a1a1a" />
<circle cx="373.20" cy="181.60" r="2.10" fill="#1a1a1a" />
<text transform="translate(373.80,172.20)" font-size="6.0" text-anchor="middle" fill="#222" font-weight="normal" font-style="normal" >****</text>
<text transform="translate(316.40,201.60) rotate(-90) scale(0.6979,1)" font-size="7.8" text-anchor="middle" fill="#111" stroke="#111" stroke-width="0.18" stroke-linejoin="round">Relative expression</text>
<text transform="translate(446.50,149.00)" font-size="8.0" text-anchor="middle" fill="#222" font-weight="normal" font-style="italic" >MEIS1</text>
<rect x="424.60" y="212.13" width="17.50" height="35.87" fill="#c9082a" />
<rect x="450.80" y="166.75" width="17.50" height="81.25" fill="#135294" />
<line x1="415.00" y1="155.80" x2="415.00" y2="248.50" stroke="#1a1a1a" stroke-width="1.1" />
<line x1="411.50" y1="248.00" x2="477.00" y2="248.00" stroke="#1a1a1a" stroke-width="1.1" />
<line x1="411.50" y1="248.00" x2="415.00" y2="248.00" stroke="#1a1a1a" stroke-width="0.9" />
<text transform="translate(408.80,250.00)" font-size="5.6" text-anchor="end" fill="#222" font-weight="normal" font-style="normal" >0</text>
<line x1="411.50" y1="211.40" x2="415.00" y2="211.40" stroke="#1a1a1a" stroke-width="0.9" />
<text transform="translate(408.80,213.40)" font-size="5.6" text-anchor="end" fill="#222" font-weight="normal" font-style="normal" >1</text>
<line x1="411.50" y1="174.80" x2="415.00" y2="174.80" stroke="#1a1a1a" stroke-width="0.9" />
<text transform="translate(408.80,176.80)" font-size="5.6" text-anchor="end" fill="#222" font-weight="normal" font-style="normal" >2</text>
<line x1="433.35" y1="248.00" x2="433.35" y2="250.40" stroke="#1a1a1a" stroke-width="0.9" />
<line x1="459.55" y1="248.00" x2="459.55" y2="250.40" stroke="#1a1a1a" stroke-width="0.9" />
<text transform="translate(433.35,258.50)" font-size="5.95" text-anchor="middle" fill="#222" font-weight="normal" font-style="normal" >DMSO</text>
<text transform="translate(459.55,258.50)" font-size="5.95" text-anchor="middle" fill="#222" font-weight="normal" font-style="normal" >A-485</text>
<line x1="429.35" y1="211.53" x2="437.35" y2="211.53" stroke="#1a1a1a" stroke-width="0.8" />
<circle cx="428.35" cy="212.73" r="2.00" fill="#1a1a1a" />
<circle cx="433.35" cy="210.53" r="2.00" fill="#1a1a1a" />
<circle cx="438.35" cy="211.93" r="2.00" fill="#1a1a1a" />
<line x1="459.55" y1="161.60" x2="459.55" y2="167.75" stroke="#1a1a1a" stroke-width="0.9" />
<line x1="455.15" y1="161.60" x2="463.95" y2="161.60" stroke="#1a1a1a" stroke-width="0.9" />
<circle cx="458.95" cy="164.60" r="2.10" fill="#1a1a1a" />
<rect x="463.90" y="160.35" width="4.10" height="4.10" fill="#1a1a1a" />
<rect x="456.90" y="169.75" width="4.10" height="4.10" fill="#1a1a1a" />
<text transform="translate(459.55,160.00)" font-size="6.0" text-anchor="middle" fill="#222" font-weight="normal" font-style="normal" >***</text>
<text transform="translate(6.00,297.20)" font-size="10.5" text-anchor="start" fill="#000" font-weight="bold" font-style="normal" >E</text>
<text transform="translate(65.00,340.20)" font-size="7.8" text-anchor="middle" fill="#222" font-weight="normal" font-style="normal" >Day 16</text>
<text transform="translate(160.70,340.20)" font-size="7.8" text-anchor="middle" fill="#222" font-weight="normal" font-style="normal" >Day 18</text>
<text transform="translate(13.20,391.40) rotate(-90)" font-size="7.5" text-anchor="middle" fill="#222" font-weight="normal" font-style="normal" >Vehicle</text>
<text transform="translate(13.20,488.00) rotate(-90) scale(1.06,1)" font-size="7.6" text-anchor="middle" fill="#222" font-weight="normal" font-style="normal" >A-485</text>
<rect x="18.10" y="345.10" width="93.30" height="92.70" fill="#3b3937" />
<rect x="32.40" y="345.00" width="1.80" height="7.00" fill="#c8ccd4" />
<path d="M32.50,393.00 C32.08,395.00 30.83,400.50 30.00,405.00 C29.17,409.50 28.40,414.83 27.50,420.00 C26.60,425.17 25.08,433.33 24.60,436.00" fill="none" stroke="#b4b4b4" stroke-width="1.15" stroke-linecap="round" />
<g filter="url(#b1)">
<path d="M34.36,351.50 C34.68,351.86 35.68,352.79 36.29,353.65 C36.91,354.51 37.55,355.59 38.05,356.66 C38.55,357.74 39.02,358.95 39.28,360.10 C39.55,361.25 39.31,362.25 39.64,363.54 C39.96,364.83 40.82,366.26 41.22,367.84 C41.62,369.42 41.87,371.14 42.01,373.00 C42.16,374.86 42.16,377.16 42.10,379.02 C42.04,380.88 42.01,382.60 41.66,384.18 C41.31,385.76 40.74,387.19 39.99,388.48 C39.24,389.77 38.11,390.92 37.17,391.92 C36.23,392.92 35.18,394.07 34.36,394.50 C33.53,394.93 33.07,394.93 32.24,394.50 C31.42,394.07 30.37,392.92 29.43,391.92 C28.49,390.92 27.36,389.77 26.61,388.48 C25.86,387.19 25.29,385.76 24.94,384.18 C24.59,382.60 24.56,380.88 24.50,379.02 C24.44,377.16 24.44,374.86 24.59,373.00 C24.73,371.14 24.98,369.42 25.38,367.84 C25.78,366.26 26.64,364.83 26.96,363.54 C27.29,362.25 27.05,361.25 27.32,360.10 C27.58,358.95 28.05,357.74 28.55,356.66 C29.05,355.59 29.69,354.51 30.31,353.65 C30.92,352.79 31.57,351.86 32.24,351.50 C32.92,351.14 34.00,351.50 34.36,351.50" fill="#1c2fd6"/>
<ellipse cx="24.94" cy="364.40" rx="1.60" ry="3.20" fill="#1c2fd6" transform="rotate(-35 24.94 364.40)"/>
<ellipse cx="41.66" cy="364.40" rx="1.60" ry="3.20" fill="#1c2fd6" transform="rotate(35 41.66 364.40)"/>
<ellipse cx="24.94" cy="388.48" rx="1.60" ry="3.20" fill="#1c2fd6" transform="rotate(30 24.94 388.48)"/>
<ellipse cx="41.66" cy="388.48" rx="1.60" ry="3.20" fill="#1c2fd6" transform="rotate(-30 41.66 388.48)"/>
<path d="M34.23,355.10 C34.51,355.39 35.39,356.16 35.93,356.86 C36.48,357.56 37.04,358.44 37.48,359.32 C37.92,360.20 38.33,361.20 38.57,362.14 C38.80,363.08 38.59,363.90 38.88,364.96 C39.16,366.01 39.92,367.19 40.27,368.48 C40.62,369.77 40.84,371.17 40.97,372.70 C41.10,374.23 41.10,376.10 41.04,377.63 C40.99,379.15 40.97,380.56 40.66,381.85 C40.35,383.14 39.84,384.32 39.19,385.37 C38.53,386.43 37.53,387.37 36.71,388.19 C35.88,389.01 34.95,389.95 34.23,390.30 C33.51,390.65 33.09,390.65 32.37,390.30 C31.65,389.95 30.72,389.01 29.89,388.19 C29.07,387.37 28.07,386.43 27.41,385.37 C26.76,384.32 26.25,383.14 25.94,381.85 C25.63,380.56 25.61,379.15 25.56,377.63 C25.50,376.10 25.50,374.23 25.63,372.70 C25.76,371.17 25.98,369.77 26.33,368.48 C26.68,367.19 27.44,366.01 27.72,364.96 C28.01,363.90 27.80,363.08 28.03,362.14 C28.27,361.20 28.68,360.20 29.12,359.32 C29.56,358.44 30.12,357.56 30.67,356.86 C31.21,356.16 31.78,355.39 32.37,355.10 C32.96,354.81 33.92,355.10 34.23,355.10" fill="#22c4e6"/>
<path d="M34.10,358.19 C34.35,358.42 35.11,359.04 35.57,359.61 C36.04,360.18 36.53,360.89 36.91,361.60 C37.29,362.31 37.65,363.11 37.85,363.87 C38.05,364.63 37.87,365.29 38.12,366.15 C38.36,367.00 39.02,367.95 39.32,368.99 C39.62,370.03 39.81,371.17 39.92,372.40 C40.03,373.63 40.03,375.15 39.99,376.38 C39.94,377.61 39.92,378.75 39.65,379.79 C39.39,380.83 38.95,381.78 38.38,382.63 C37.81,383.49 36.96,384.24 36.24,384.91 C35.53,385.57 34.73,386.33 34.10,386.61 C33.48,386.90 33.12,386.90 32.50,386.61 C31.87,386.33 31.07,385.57 30.36,384.91 C29.64,384.24 28.79,383.49 28.22,382.63 C27.65,381.78 27.21,380.83 26.95,379.79 C26.68,378.75 26.66,377.61 26.61,376.38 C26.57,375.15 26.57,373.63 26.68,372.40 C26.79,371.17 26.98,370.03 27.28,368.99 C27.58,367.95 28.24,367.00 28.48,366.15 C28.73,365.29 28.55,364.63 28.75,363.87 C28.95,363.11 29.31,362.31 29.69,361.60 C30.07,360.89 30.56,360.18 31.03,359.61 C31.49,359.04 31.98,358.42 32.50,358.19 C33.01,357.95 33.84,358.19 34.10,358.19" fill="#4cd84a"/>
<ellipse cx="31.50" cy="387.00" rx="4.50" ry="4.50" fill="#22c4e6"/>
<ellipse cx="30.50" cy="390.50" rx="2.50" ry="2.50" fill="#1c2fd6"/>
<ellipse cx="37.50" cy="365.00" rx="2.20" ry="4.00" fill="#22c4e6"/>
<ellipse cx="33.70" cy="358.50" rx="3.00" ry="2.20" fill="#f4e420"/>
<ellipse cx="33.30" cy="371.50" rx="3.20" ry="6.50" fill="#f4e420"/>
<ellipse cx="31.50" cy="381.00" rx="2.50" ry="3.00" fill="#f4e420"/>
<ellipse cx="33.70" cy="358.30" rx="1.80" ry="1.30" fill="#e8120c"/>
<ellipse cx="33.30" cy="370.80" rx="1.70" ry="3.60" fill="#e8120c"/>
</g>
<rect x="52.60" y="347.50" width="1.80" height="7.00" fill="#c8ccd4" />
<path d="M54.50,396.00 C54.55,397.33 54.98,400.00 54.80,404.00 C54.62,408.00 53.90,414.53 53.40,420.00 C52.90,425.47 52.07,434.00 51.80,436.80" fill="none" stroke="#b4b4b4" stroke-width="1.15" stroke-linecap="round" />
<g filter="url(#b1)">
<path d="M54.60,354.00 C54.94,354.37 55.98,355.31 56.63,356.19 C57.27,357.07 57.95,358.16 58.47,359.26 C58.99,360.35 59.48,361.59 59.76,362.76 C60.03,363.93 59.79,364.95 60.12,366.26 C60.46,367.58 61.37,369.04 61.78,370.64 C62.19,372.25 62.45,374.00 62.61,375.90 C62.76,377.80 62.76,380.13 62.70,382.03 C62.64,383.93 62.61,385.68 62.24,387.29 C61.87,388.89 61.27,390.35 60.49,391.67 C59.71,392.98 58.53,394.15 57.55,395.17 C56.57,396.19 55.46,397.36 54.60,397.80 C53.75,398.24 53.25,398.24 52.40,397.80 C51.54,397.36 50.43,396.19 49.45,395.17 C48.47,394.15 47.29,392.98 46.51,391.67 C45.73,390.35 45.13,388.89 44.76,387.29 C44.39,385.68 44.36,383.93 44.30,382.03 C44.24,380.13 44.24,377.80 44.39,375.90 C44.55,374.00 44.81,372.25 45.22,370.64 C45.63,369.04 46.54,367.58 46.88,366.26 C47.21,364.95 46.97,363.93 47.24,362.76 C47.52,361.59 48.01,360.35 48.53,359.26 C49.05,358.16 49.73,357.07 50.37,356.19 C51.02,355.31 51.69,354.37 52.40,354.00 C53.10,353.63 54.24,354.00 54.60,354.00" fill="#1c2fd6"/>
<ellipse cx="44.76" cy="367.14" rx="1.60" ry="3.20" fill="#1c2fd6" transform="rotate(-35 44.76 367.14)"/>
<ellipse cx="62.24" cy="367.14" rx="1.60" ry="3.20" fill="#1c2fd6" transform="rotate(35 62.24 367.14)"/>
<ellipse cx="44.76" cy="391.67" rx="1.60" ry="3.20" fill="#1c2fd6" transform="rotate(30 44.76 391.67)"/>
<ellipse cx="62.24" cy="391.67" rx="1.60" ry="3.20" fill="#1c2fd6" transform="rotate(-30 62.24 391.67)"/>
<path d="M54.47,357.65 C54.77,357.95 55.69,358.73 56.25,359.44 C56.82,360.16 57.41,361.06 57.87,361.96 C58.33,362.85 58.76,363.87 59.01,364.83 C59.25,365.79 59.03,366.62 59.33,367.70 C59.63,368.78 60.42,369.98 60.79,371.29 C61.15,372.61 61.38,374.04 61.52,375.60 C61.65,377.16 61.65,379.07 61.60,380.63 C61.54,382.18 61.52,383.62 61.19,384.94 C60.87,386.25 60.34,387.45 59.65,388.53 C58.96,389.60 57.93,390.56 57.06,391.40 C56.20,392.24 55.23,393.19 54.47,393.55 C53.72,393.91 53.28,393.91 52.53,393.55 C51.77,393.19 50.80,392.24 49.94,391.40 C49.07,390.56 48.04,389.60 47.35,388.53 C46.66,387.45 46.13,386.25 45.81,384.94 C45.48,383.62 45.46,382.18 45.40,380.63 C45.35,379.07 45.35,377.16 45.48,375.60 C45.62,374.04 45.85,372.61 46.21,371.29 C46.58,369.98 47.37,368.78 47.67,367.70 C47.97,366.62 47.75,365.79 47.99,364.83 C48.24,363.87 48.67,362.85 49.13,361.96 C49.59,361.06 50.18,360.16 50.75,359.44 C51.31,358.73 51.91,357.95 52.53,357.65 C53.15,357.35 54.15,357.65 54.47,357.65" fill="#22c4e6"/>
<path d="M54.34,360.78 C54.60,361.03 55.39,361.65 55.88,362.24 C56.37,362.82 56.88,363.54 57.28,364.27 C57.67,364.99 58.04,365.82 58.25,366.59 C58.46,367.36 58.28,368.04 58.53,368.91 C58.79,369.78 59.48,370.75 59.79,371.82 C60.11,372.88 60.31,374.04 60.42,375.30 C60.54,376.56 60.54,378.11 60.49,379.36 C60.45,380.62 60.42,381.78 60.14,382.85 C59.86,383.91 59.41,384.88 58.81,385.75 C58.22,386.62 57.32,387.40 56.58,388.07 C55.83,388.75 54.99,389.53 54.34,389.82 C53.69,390.11 53.31,390.11 52.66,389.82 C52.01,389.53 51.17,388.75 50.42,388.07 C49.68,387.40 48.78,386.62 48.19,385.75 C47.59,384.88 47.14,383.91 46.86,382.85 C46.58,381.78 46.55,380.62 46.51,379.36 C46.46,378.11 46.46,376.56 46.58,375.30 C46.69,374.04 46.89,372.88 47.21,371.82 C47.52,370.75 48.21,369.78 48.47,368.91 C48.72,368.04 48.54,367.36 48.75,366.59 C48.96,365.82 49.33,364.99 49.72,364.27 C50.12,363.54 50.63,362.82 51.12,362.24 C51.61,361.65 52.12,361.03 52.66,360.78 C53.20,360.54 54.06,360.78 54.34,360.78" fill="#4cd84a"/>
<ellipse cx="53.50" cy="391.00" rx="5.00" ry="4.00" fill="#22c4e6"/>
<ellipse cx="47.50" cy="367.00" rx="2.00" ry="4.00" fill="#22c4e6"/>
<ellipse cx="58.50" cy="368.00" rx="2.00" ry="3.50" fill="#22c4e6"/>
<ellipse cx="53.50" cy="361.00" rx="3.00" ry="2.20" fill="#f4e420"/>
<ellipse cx="51.00" cy="373.50" rx="3.20" ry="5.50" fill="#f4e420" transform="rotate(10 51.00 373.50)"/>
<ellipse cx="56.00" cy="379.00" rx="3.00" ry="3.20" fill="#f4e420"/>
<ellipse cx="52.00" cy="386.00" rx="2.20" ry="2.40" fill="#f4e420"/>
<ellipse cx="53.50" cy="360.80" rx="1.80" ry="1.30" fill="#e8120c"/>
<ellipse cx="50.60" cy="372.80" rx="1.60" ry="3.20" fill="#e8120c" transform="rotate(15 50.60 372.80)"/>
</g>
<rect x="75.60" y="348.00" width="1.80" height="7.00" fill="#c8ccd4" />
<path d="M74.00,396.00 C73.80,398.00 73.22,403.67 72.80,408.00 C72.38,412.33 71.83,417.25 71.50,422.00 C71.17,426.75 70.92,434.08 70.80,436.50" fill="none" stroke="#b4b4b4" stroke-width="1.15" stroke-linecap="round" />
<g filter="url(#b1)">
<path d="M77.65,354.50 C78.00,354.86 79.09,355.80 79.76,356.67 C80.44,357.53 81.14,358.61 81.68,359.70 C82.23,360.78 82.74,362.01 83.03,363.16 C83.32,364.31 83.06,365.33 83.41,366.62 C83.76,367.92 84.71,369.37 85.14,370.95 C85.57,372.54 85.84,374.27 86.00,376.15 C86.16,378.03 86.16,380.34 86.10,382.21 C86.04,384.09 86.00,385.82 85.62,387.41 C85.24,389.00 84.61,390.44 83.80,391.74 C82.98,393.04 81.75,394.19 80.72,395.20 C79.70,396.21 78.55,397.37 77.65,397.80 C76.76,398.23 76.24,398.23 75.35,397.80 C74.45,397.37 73.30,396.21 72.28,395.20 C71.25,394.19 70.02,393.04 69.20,391.74 C68.39,390.44 67.76,389.00 67.38,387.41 C67.00,385.82 66.96,384.09 66.90,382.21 C66.84,380.34 66.84,378.03 67.00,376.15 C67.16,374.27 67.43,372.54 67.86,370.95 C68.29,369.37 69.24,367.92 69.59,366.62 C69.94,365.33 69.68,364.31 69.97,363.16 C70.26,362.01 70.77,360.78 71.32,359.70 C71.86,358.61 72.56,357.53 73.24,356.67 C73.91,355.80 74.61,354.86 75.35,354.50 C76.08,354.14 77.27,354.50 77.65,354.50" fill="#1c2fd6"/>
<ellipse cx="67.38" cy="367.49" rx="1.60" ry="3.20" fill="#1c2fd6" transform="rotate(-35 67.38 367.49)"/>
<ellipse cx="85.62" cy="367.49" rx="1.60" ry="3.20" fill="#1c2fd6" transform="rotate(35 85.62 367.49)"/>
<ellipse cx="67.38" cy="391.74" rx="1.60" ry="3.20" fill="#1c2fd6" transform="rotate(30 67.38 391.74)"/>
<ellipse cx="85.62" cy="391.74" rx="1.60" ry="3.20" fill="#1c2fd6" transform="rotate(-30 85.62 391.74)"/>
<path d="M77.51,358.12 C77.82,358.41 78.78,359.18 79.37,359.89 C79.96,360.60 80.58,361.49 81.06,362.37 C81.54,363.26 81.99,364.27 82.24,365.21 C82.50,366.16 82.27,366.98 82.58,368.05 C82.89,369.11 83.72,370.29 84.10,371.59 C84.48,372.89 84.72,374.31 84.86,375.85 C85.00,377.39 85.00,379.28 84.95,380.81 C84.89,382.35 84.86,383.77 84.53,385.07 C84.19,386.37 83.64,387.55 82.92,388.62 C82.20,389.68 81.12,390.63 80.22,391.45 C79.32,392.28 78.30,393.23 77.51,393.58 C76.73,393.94 76.27,393.94 75.49,393.58 C74.70,393.23 73.68,392.28 72.78,391.45 C71.88,390.63 70.80,389.68 70.08,388.62 C69.36,387.55 68.81,386.37 68.47,385.07 C68.14,383.77 68.11,382.35 68.05,380.81 C68.00,379.28 68.00,377.39 68.14,375.85 C68.28,374.31 68.52,372.89 68.90,371.59 C69.28,370.29 70.11,369.11 70.42,368.05 C70.73,366.98 70.50,366.16 70.76,365.21 C71.01,364.27 71.46,363.26 71.94,362.37 C72.42,361.49 73.04,360.60 73.63,359.89 C74.22,359.18 74.84,358.41 75.49,358.12 C76.13,357.82 77.18,358.12 77.51,358.12" fill="#22c4e6"/>
<path d="M77.38,361.22 C77.64,361.46 78.47,362.08 78.98,362.66 C79.49,363.23 80.03,363.95 80.44,364.66 C80.85,365.38 81.24,366.19 81.46,366.95 C81.68,367.72 81.49,368.39 81.75,369.25 C82.02,370.11 82.74,371.06 83.07,372.11 C83.39,373.16 83.60,374.31 83.72,375.55 C83.84,376.79 83.84,378.32 83.80,379.56 C83.75,380.80 83.72,381.95 83.43,383.00 C83.14,384.05 82.67,385.01 82.04,385.86 C81.42,386.72 80.49,387.49 79.71,388.16 C78.93,388.83 78.06,389.59 77.38,389.88 C76.69,390.16 76.31,390.16 75.62,389.88 C74.94,389.59 74.07,388.83 73.29,388.16 C72.51,387.49 71.58,386.72 70.96,385.86 C70.33,385.01 69.86,384.05 69.57,383.00 C69.28,381.95 69.25,380.80 69.20,379.56 C69.16,378.32 69.16,376.79 69.28,375.55 C69.40,374.31 69.61,373.16 69.93,372.11 C70.26,371.06 70.98,370.11 71.25,369.25 C71.51,368.39 71.32,367.72 71.54,366.95 C71.76,366.19 72.15,365.38 72.56,364.66 C72.97,363.95 73.51,363.23 74.02,362.66 C74.53,362.08 75.07,361.46 75.62,361.22 C76.18,360.99 77.08,361.22 77.38,361.22" fill="#4cd84a"/>
<ellipse cx="76.00" cy="390.50" rx="5.50" ry="4.00" fill="#22c4e6"/>
<ellipse cx="71.00" cy="368.00" rx="2.60" ry="4.50" fill="#22c4e6"/>
<ellipse cx="82.00" cy="366.00" rx="2.20" ry="3.50" fill="#22c4e6"/>
<ellipse cx="78.00" cy="393.50" rx="2.50" ry="2.00" fill="#1c2fd6"/>
<ellipse cx="77.50" cy="362.20" rx="2.80" ry="2.00" fill="#f4e420"/>
<ellipse cx="80.00" cy="376.00" rx="5.50" ry="4.20" fill="#f4e420"/>
<ellipse cx="72.00" cy="378.00" rx="2.40" ry="2.60" fill="#f4e420"/>
<ellipse cx="76.00" cy="384.50" rx="2.40" ry="2.20" fill="#f4e420"/>
<ellipse cx="77.50" cy="362.00" rx="1.60" ry="1.20" fill="#e8120c"/>
<ellipse cx="79.40" cy="375.40" rx="2.60" ry="2.40" fill="#e8120c"/>
<ellipse cx="83.60" cy="377.00" rx="1.60" ry="1.80" fill="#e8120c"/>
</g>
<rect x="96.80" y="346.50" width="1.80" height="7.00" fill="#c8ccd4" />
<path d="M98.00,397.00 C97.92,399.17 97.67,405.50 97.50,410.00 C97.33,414.50 97.13,419.58 97.00,424.00 C96.87,428.42 96.75,434.42 96.70,436.50" fill="none" stroke="#b4b4b4" stroke-width="1.15" stroke-linecap="round" />
<g filter="url(#b1)">
<path d="M98.76,353.00 C99.08,353.38 100.08,354.37 100.69,355.29 C101.31,356.20 101.95,357.34 102.45,358.48 C102.95,359.63 103.42,360.92 103.68,362.14 C103.95,363.36 103.71,364.43 104.04,365.80 C104.36,367.17 105.22,368.69 105.62,370.37 C106.02,372.04 106.27,373.87 106.41,375.85 C106.56,377.83 106.56,380.27 106.50,382.25 C106.44,384.23 106.41,386.06 106.06,387.73 C105.71,389.41 105.14,390.93 104.39,392.30 C103.64,393.67 102.51,394.89 101.57,395.96 C100.63,397.02 99.58,398.24 98.76,398.70 C97.93,399.16 97.47,399.16 96.64,398.70 C95.82,398.24 94.77,397.02 93.83,395.96 C92.89,394.89 91.76,393.67 91.01,392.30 C90.26,390.93 89.69,389.41 89.34,387.73 C88.99,386.06 88.96,384.23 88.90,382.25 C88.84,380.27 88.84,377.83 88.99,375.85 C89.13,373.87 89.38,372.04 89.78,370.37 C90.18,368.69 91.04,367.17 91.36,365.80 C91.69,364.43 91.45,363.36 91.72,362.14 C91.98,360.92 92.45,359.63 92.95,358.48 C93.45,357.34 94.09,356.20 94.71,355.29 C95.32,354.37 95.97,353.38 96.64,353.00 C97.32,352.62 98.40,353.00 98.76,353.00" fill="#1c2fd6"/>
<ellipse cx="89.34" cy="366.71" rx="1.60" ry="3.20" fill="#1c2fd6" transform="rotate(-35 89.34 366.71)"/>
<ellipse cx="106.06" cy="366.71" rx="1.60" ry="3.20" fill="#1c2fd6" transform="rotate(35 106.06 366.71)"/>
<ellipse cx="89.34" cy="392.30" rx="1.60" ry="3.20" fill="#1c2fd6" transform="rotate(30 89.34 392.30)"/>
<ellipse cx="106.06" cy="392.30" rx="1.60" ry="3.20" fill="#1c2fd6" transform="rotate(-30 106.06 392.30)"/>
<path d="M98.63,356.76 C98.91,357.08 99.79,357.89 100.33,358.64 C100.88,359.39 101.44,360.33 101.88,361.27 C102.32,362.21 102.73,363.28 102.97,364.28 C103.20,365.28 102.99,366.16 103.28,367.28 C103.56,368.41 104.32,369.66 104.67,371.04 C105.02,372.42 105.24,373.92 105.37,375.55 C105.50,377.18 105.50,379.18 105.44,380.81 C105.39,382.44 105.37,383.94 105.06,385.32 C104.75,386.70 104.24,387.95 103.59,389.08 C102.93,390.20 101.93,391.21 101.11,392.08 C100.28,392.96 99.35,393.96 98.63,394.34 C97.91,394.71 97.49,394.71 96.77,394.34 C96.05,393.96 95.12,392.96 94.29,392.08 C93.47,391.21 92.47,390.20 91.81,389.08 C91.16,387.95 90.65,386.70 90.34,385.32 C90.03,383.94 90.01,382.44 89.96,380.81 C89.90,379.18 89.90,377.18 90.03,375.55 C90.16,373.92 90.38,372.42 90.73,371.04 C91.08,369.66 91.84,368.41 92.12,367.28 C92.41,366.16 92.20,365.28 92.43,364.28 C92.67,363.28 93.08,362.21 93.52,361.27 C93.96,360.33 94.52,359.39 95.07,358.64 C95.61,357.89 96.18,357.08 96.77,356.76 C97.36,356.45 98.32,356.76 98.63,356.76" fill="#22c4e6"/>
<path d="M98.50,360.01 C98.75,360.27 99.51,360.93 99.97,361.54 C100.44,362.15 100.93,362.91 101.31,363.67 C101.69,364.43 102.05,365.29 102.25,366.11 C102.45,366.92 102.27,367.63 102.52,368.55 C102.76,369.46 103.42,370.48 103.72,371.59 C104.02,372.71 104.21,373.93 104.32,375.25 C104.43,376.57 104.43,378.20 104.39,379.52 C104.34,380.84 104.32,382.06 104.05,383.17 C103.79,384.29 103.35,385.31 102.78,386.22 C102.21,387.14 101.36,387.95 100.64,388.66 C99.93,389.37 99.13,390.18 98.50,390.49 C97.88,390.79 97.52,390.79 96.90,390.49 C96.27,390.18 95.47,389.37 94.76,388.66 C94.04,387.95 93.19,387.14 92.62,386.22 C92.05,385.31 91.61,384.29 91.35,383.17 C91.08,382.06 91.06,380.84 91.01,379.52 C90.97,378.20 90.97,376.57 91.08,375.25 C91.19,373.93 91.38,372.71 91.68,371.59 C91.98,370.48 92.64,369.46 92.88,368.55 C93.13,367.63 92.95,366.92 93.15,366.11 C93.35,365.29 93.71,364.43 94.09,363.67 C94.47,362.91 94.96,362.15 95.43,361.54 C95.89,360.93 96.38,360.27 96.90,360.01 C97.41,359.76 98.24,360.01 98.50,360.01" fill="#4cd84a"/>
<ellipse cx="98.00" cy="392.00" rx="4.50" ry="3.60" fill="#22c4e6"/>
<ellipse cx="93.00" cy="368.00" rx="2.20" ry="4.00" fill="#22c4e6"/>
<ellipse cx="98.50" cy="394.50" rx="2.50" ry="2.00" fill="#1c2fd6"/>
<ellipse cx="99.00" cy="364.50" rx="2.50" ry="3.00" fill="#f4e420"/>
<ellipse cx="97.50" cy="379.00" rx="6.20" ry="7.40" fill="#f4e420"/>
<ellipse cx="99.00" cy="364.00" rx="1.40" ry="1.60" fill="#e8120c"/>
<ellipse cx="98.90" cy="378.50" rx="2.40" ry="5.20" fill="#e8120c"/>
<ellipse cx="92.90" cy="378.50" rx="2.00" ry="2.30" fill="#e8120c"/>
</g>
<rect x="114.70" y="345.10" width="92.80" height="92.70" fill="#3b3937" />
<path d="M123.50,396.00 C123.58,398.00 123.50,403.67 124.00,408.00 C124.50,412.33 125.45,417.25 126.50,422.00 C127.55,426.75 129.67,434.08 130.30,436.50" fill="none" stroke="url(#tgg)" stroke-width="2.8" stroke-linecap="round" filter="url(#b2)"/>
<path d="M123.50,396.00 C123.58,398.00 123.50,403.67 124.00,408.00 C124.50,412.33 125.45,417.25 126.50,422.00 C127.55,426.75 129.67,434.08 130.30,436.50" fill="none" stroke="url(#tg)" stroke-width="1.2" stroke-linecap="round" />
<rect x="127.40" y="347.50" width="1.80" height="7.00" fill="#c8ccd4" />
<path d="M123.50,396.00 C123.52,396.17 123.58,396.83 123.60,397.00" fill="none" stroke="#b4b4b4" stroke-width="1.15" stroke-linecap="round" />
<g filter="url(#b1)">
<path d="M127.09,354.00 C127.47,354.38 128.63,355.36 129.37,356.26 C130.11,357.16 130.91,358.29 131.56,359.42 C132.20,360.55 132.83,361.83 133.23,363.04 C133.63,364.25 133.49,365.30 133.97,366.66 C134.45,368.01 135.52,369.52 136.11,371.18 C136.70,372.83 137.15,374.64 137.51,376.60 C137.86,378.56 138.11,380.97 138.25,382.93 C138.39,384.89 138.55,386.69 138.34,388.35 C138.14,390.01 137.69,391.52 137.04,392.87 C136.39,394.23 135.32,395.43 134.44,396.49 C133.55,397.54 132.56,398.75 131.74,399.20 C130.92,399.65 130.42,399.65 129.51,399.20 C128.59,398.75 127.35,397.54 126.25,396.49 C125.15,395.43 123.84,394.23 122.91,392.87 C121.98,391.52 121.22,390.01 120.67,388.35 C120.13,386.69 119.91,384.89 119.65,382.93 C119.39,380.97 119.14,378.56 119.09,376.60 C119.05,374.64 119.12,372.83 119.37,371.18 C119.62,369.52 120.38,368.01 120.58,366.66 C120.78,365.30 120.43,364.25 120.58,363.04 C120.74,361.83 121.10,360.55 121.51,359.42 C121.92,358.29 122.49,357.16 123.05,356.26 C123.60,355.36 124.18,354.38 124.86,354.00 C125.53,353.62 126.72,354.00 127.09,354.00" fill="#1c2fd6"/>
<ellipse cx="119.47" cy="367.56" rx="1.60" ry="3.20" fill="#1c2fd6" transform="rotate(-35 119.47 367.56)"/>
<ellipse cx="137.14" cy="367.56" rx="1.60" ry="3.20" fill="#1c2fd6" transform="rotate(35 137.14 367.56)"/>
<ellipse cx="119.47" cy="392.87" rx="1.60" ry="3.20" fill="#1c2fd6" transform="rotate(30 119.47 392.87)"/>
<ellipse cx="137.14" cy="392.87" rx="1.60" ry="3.20" fill="#1c2fd6" transform="rotate(-30 137.14 392.87)"/>
<path d="M127.18,356.68 C127.53,357.00 128.60,357.85 129.29,358.64 C129.99,359.42 130.73,360.41 131.33,361.39 C131.93,362.37 132.51,363.48 132.88,364.53 C133.26,365.57 133.13,366.49 133.58,367.67 C134.02,368.84 135.02,370.15 135.57,371.59 C136.11,373.03 136.53,374.60 136.86,376.30 C137.19,378.00 137.42,380.09 137.55,381.79 C137.68,383.50 137.83,385.06 137.64,386.50 C137.45,387.94 137.04,389.25 136.43,390.43 C135.82,391.61 134.83,392.65 134.01,393.57 C133.19,394.48 132.26,395.53 131.50,395.92 C130.74,396.32 130.27,396.32 129.42,395.92 C128.57,395.53 127.42,394.48 126.40,393.57 C125.37,392.65 124.15,391.61 123.28,390.43 C122.42,389.25 121.71,387.94 121.21,386.50 C120.70,385.06 120.50,383.50 120.26,381.79 C120.01,380.09 119.78,378.00 119.74,376.30 C119.69,374.60 119.77,373.03 120.00,371.59 C120.23,370.15 120.93,368.84 121.12,367.67 C121.31,366.49 120.98,365.57 121.12,364.53 C121.27,363.48 121.60,362.37 121.99,361.39 C122.37,360.41 122.89,359.42 123.41,358.64 C123.93,357.85 124.47,357.00 125.10,356.68 C125.73,356.35 126.83,356.68 127.18,356.68" fill="#22c4e6"/>
<path d="M127.28,359.37 C127.60,359.65 128.57,360.37 129.20,361.03 C129.82,361.70 130.49,362.53 131.03,363.36 C131.57,364.19 132.10,365.13 132.44,366.02 C132.78,366.91 132.66,367.68 133.07,368.68 C133.47,369.68 134.37,370.79 134.86,372.01 C135.36,373.23 135.73,374.56 136.03,376.00 C136.33,377.44 136.54,379.22 136.66,380.66 C136.78,382.10 136.91,383.43 136.74,384.65 C136.57,385.87 136.19,386.98 135.64,387.98 C135.10,388.97 134.20,389.86 133.46,390.64 C132.71,391.41 131.88,392.30 131.19,392.63 C130.50,392.96 130.08,392.96 129.32,392.63 C128.55,392.30 127.51,391.41 126.58,390.64 C125.66,389.86 124.55,388.97 123.77,387.98 C122.99,386.98 122.35,385.87 121.89,384.65 C121.44,383.43 121.26,382.10 121.03,380.66 C120.81,379.22 120.61,377.44 120.57,376.00 C120.53,374.56 120.59,373.23 120.80,372.01 C121.01,370.79 121.65,369.68 121.82,368.68 C121.99,367.68 121.69,366.91 121.82,366.02 C121.95,365.13 122.25,364.19 122.60,363.36 C122.94,362.53 123.42,361.70 123.89,361.03 C124.35,360.37 124.84,359.65 125.41,359.37 C125.98,359.09 126.97,359.37 127.28,359.37" fill="#4cd84a"/>
<ellipse cx="128.60" cy="374.50" rx="7.80" ry="19.50" fill="#f4e420" transform="rotate(13 128.60 374.50)"/>
<ellipse cx="128.80" cy="373.50" rx="6.60" ry="17.50" fill="#e8120c" transform="rotate(13 128.80 373.50)"/>
<ellipse cx="131.00" cy="362.00" rx="4.20" ry="6.00" fill="#e8120c"/>
<ellipse cx="124.60" cy="384.00" rx="4.00" ry="7.50" fill="#e8120c" transform="rotate(10 124.60 384.00)"/>
</g>
<path d="M147.50,395.00 C147.42,397.17 147.17,403.50 147.00,408.00 C146.83,412.50 146.63,417.25 146.50,422.00 C146.37,426.75 146.25,434.08 146.20,436.50" fill="none" stroke="url(#tgg)" stroke-width="2.8" stroke-linecap="round" filter="url(#b2)"/>
<path d="M147.50,395.00 C147.42,397.17 147.17,403.50 147.00,408.00 C146.83,412.50 146.63,417.25 146.50,422.00 C146.37,426.75 146.25,434.08 146.20,436.50" fill="none" stroke="url(#tg)" stroke-width="1.2" stroke-linecap="round" />
<rect x="148.60" y="348.00" width="1.80" height="7.00" fill="#c8ccd4" />
<path d="M147.50,395.00 C147.48,395.17 147.42,395.83 147.40,396.00" fill="none" stroke="#b4b4b4" stroke-width="1.15" stroke-linecap="round" />
<g filter="url(#b1)">
<path d="M150.60,354.50 C150.94,354.87 151.98,355.82 152.63,356.70 C153.27,357.59 153.95,358.69 154.47,359.79 C154.99,360.89 155.48,362.14 155.76,363.32 C156.03,364.50 155.79,365.52 156.12,366.85 C156.46,368.17 157.37,369.64 157.78,371.26 C158.19,372.88 158.45,374.64 158.61,376.55 C158.76,378.46 158.76,380.81 158.70,382.72 C158.64,384.63 158.61,386.40 158.24,388.02 C157.87,389.63 157.27,391.10 156.49,392.43 C155.71,393.75 154.53,394.93 153.55,395.95 C152.57,396.98 151.46,398.16 150.60,398.60 C149.75,399.04 149.25,399.04 148.40,398.60 C147.54,398.16 146.43,396.98 145.45,395.95 C144.47,394.93 143.29,393.75 142.51,392.43 C141.73,391.10 141.13,389.63 140.76,388.02 C140.39,386.40 140.36,384.63 140.30,382.72 C140.24,380.81 140.24,378.46 140.39,376.55 C140.55,374.64 140.81,372.88 141.22,371.26 C141.63,369.64 142.54,368.17 142.88,366.85 C143.21,365.52 142.97,364.50 143.24,363.32 C143.52,362.14 144.01,360.89 144.53,359.79 C145.05,358.69 145.73,357.59 146.37,356.70 C147.02,355.82 147.69,354.87 148.40,354.50 C149.10,354.13 150.24,354.50 150.60,354.50" fill="#1c2fd6"/>
<ellipse cx="140.76" cy="367.73" rx="1.60" ry="3.20" fill="#1c2fd6" transform="rotate(-35 140.76 367.73)"/>
<ellipse cx="158.24" cy="367.73" rx="1.60" ry="3.20" fill="#1c2fd6" transform="rotate(35 158.24 367.73)"/>
<ellipse cx="140.76" cy="392.43" rx="1.60" ry="3.20" fill="#1c2fd6" transform="rotate(30 140.76 392.43)"/>
<ellipse cx="158.24" cy="392.43" rx="1.60" ry="3.20" fill="#1c2fd6" transform="rotate(-30 158.24 392.43)"/>
<path d="M150.53,357.14 C150.84,357.46 151.81,358.29 152.41,359.05 C153.01,359.81 153.64,360.77 154.12,361.73 C154.61,362.68 155.06,363.76 155.32,364.78 C155.57,365.80 155.35,366.69 155.66,367.84 C155.97,368.99 156.82,370.26 157.20,371.66 C157.59,373.06 157.83,374.59 157.97,376.25 C158.11,377.91 158.11,379.94 158.06,381.60 C158.00,383.26 157.97,384.79 157.63,386.19 C157.29,387.59 156.73,388.86 156.00,390.01 C155.28,391.16 154.18,392.18 153.26,393.07 C152.35,393.96 151.33,394.98 150.53,395.36 C149.73,395.74 149.27,395.74 148.47,395.36 C147.67,394.98 146.65,393.96 145.74,393.07 C144.82,392.18 143.72,391.16 143.00,390.01 C142.27,388.86 141.71,387.59 141.37,386.19 C141.03,384.79 141.00,383.26 140.94,381.60 C140.89,379.94 140.89,377.91 141.03,376.25 C141.17,374.59 141.41,373.06 141.80,371.66 C142.18,370.26 143.03,368.99 143.34,367.84 C143.65,366.69 143.43,365.80 143.68,364.78 C143.94,363.76 144.39,362.68 144.88,361.73 C145.36,360.77 145.99,359.81 146.59,359.05 C147.19,358.29 147.82,357.46 148.47,357.14 C149.13,356.82 150.18,357.14 150.53,357.14" fill="#22c4e6"/>
<path d="M150.43,359.78 C150.71,360.05 151.59,360.75 152.13,361.40 C152.67,362.04 153.24,362.85 153.67,363.66 C154.11,364.47 154.52,365.39 154.76,366.25 C154.99,367.11 154.78,367.87 155.06,368.84 C155.35,369.81 156.11,370.88 156.46,372.07 C156.80,373.25 157.02,374.55 157.15,375.95 C157.28,377.35 157.28,379.08 157.23,380.48 C157.18,381.88 157.15,383.17 156.84,384.36 C156.53,385.54 156.03,386.62 155.37,387.59 C154.72,388.56 153.72,389.43 152.90,390.18 C152.08,390.93 151.15,391.80 150.43,392.12 C149.71,392.44 149.29,392.44 148.57,392.12 C147.85,391.80 146.92,390.93 146.10,390.18 C145.28,389.43 144.28,388.56 143.63,387.59 C142.97,386.62 142.47,385.54 142.16,384.36 C141.85,383.17 141.82,381.88 141.77,380.48 C141.72,379.08 141.72,377.35 141.85,375.95 C141.98,374.55 142.20,373.25 142.54,372.07 C142.89,370.88 143.65,369.81 143.94,368.84 C144.22,367.87 144.01,367.11 144.24,366.25 C144.48,365.39 144.89,364.47 145.33,363.66 C145.76,362.85 146.33,362.04 146.87,361.40 C147.41,360.75 147.98,360.05 148.57,359.78 C149.17,359.51 150.12,359.78 150.43,359.78" fill="#4cd84a"/>
<ellipse cx="151.40" cy="361.50" rx="3.80" ry="3.60" fill="#f4e420"/>
<ellipse cx="149.00" cy="374.50" rx="5.20" ry="11.50" fill="#f4e420" transform="rotate(35 149.00 374.50)"/>
<ellipse cx="153.00" cy="374.00" rx="4.20" ry="8.00" fill="#f4e420"/>
<ellipse cx="146.00" cy="383.00" rx="3.80" ry="3.60" fill="#f4e420"/>
<ellipse cx="150.00" cy="386.00" rx="3.00" ry="2.60" fill="#f4e420"/>
<ellipse cx="151.40" cy="361.20" rx="2.60" ry="2.40" fill="#e8120c"/>
<ellipse cx="149.00" cy="373.50" rx="2.60" ry="8.50" fill="#e8120c" transform="rotate(38 149.00 373.50)"/>
<ellipse cx="153.50" cy="369.00" rx="2.20" ry="3.20" fill="#e8120c"/>
<ellipse cx="154.00" cy="377.00" rx="2.00" ry="2.60" fill="#e8120c"/>
</g>
<path d="M171.50,394.00 C171.42,396.33 171.20,403.33 171.00,408.00 C170.80,412.67 170.52,417.25 170.30,422.00 C170.08,426.75 169.80,434.08 169.70,436.50" fill="none" stroke="url(#tgg)" stroke-width="2.8" stroke-linecap="round" filter="url(#b2)"/>
<path d="M171.50,394.00 C171.42,396.33 171.20,403.33 171.00,408.00 C170.80,412.67 170.52,417.25 170.30,422.00 C170.08,426.75 169.80,434.08 169.70,436.50" fill="none" stroke="url(#tg)" stroke-width="1.2" stroke-linecap="round" />
<rect x="171.70" y="346.50" width="1.80" height="7.00" fill="#c8ccd4" />
<path d="M171.50,394.00 C171.48,394.17 171.42,394.83 171.40,395.00" fill="none" stroke="#b4b4b4" stroke-width="1.15" stroke-linecap="round" />
<g filter="url(#b1)">
<path d="M173.66,353.00 C173.98,353.37 174.98,354.34 175.59,355.24 C176.21,356.14 176.85,357.26 177.35,358.38 C177.85,359.50 178.32,360.77 178.58,361.96 C178.85,363.15 178.61,364.20 178.94,365.54 C179.26,366.89 180.12,368.38 180.52,370.02 C180.92,371.67 181.17,373.46 181.31,375.40 C181.46,377.34 181.46,379.73 181.40,381.67 C181.34,383.61 181.31,385.41 180.96,387.05 C180.61,388.69 180.04,390.18 179.29,391.53 C178.54,392.87 177.41,394.07 176.47,395.11 C175.53,396.16 174.48,397.35 173.66,397.80 C172.83,398.25 172.37,398.25 171.54,397.80 C170.72,397.35 169.67,396.16 168.73,395.11 C167.79,394.07 166.66,392.87 165.91,391.53 C165.16,390.18 164.59,388.69 164.24,387.05 C163.89,385.41 163.86,383.61 163.80,381.67 C163.74,379.73 163.74,377.34 163.89,375.40 C164.03,373.46 164.28,371.67 164.68,370.02 C165.08,368.38 165.94,366.89 166.26,365.54 C166.59,364.20 166.35,363.15 166.62,361.96 C166.88,360.77 167.35,359.50 167.85,358.38 C168.35,357.26 168.99,356.14 169.61,355.24 C170.22,354.34 170.87,353.37 171.54,353.00 C172.22,352.63 173.30,353.00 173.66,353.00" fill="#1c2fd6"/>
<ellipse cx="164.24" cy="366.44" rx="1.60" ry="3.20" fill="#1c2fd6" transform="rotate(-35 164.24 366.44)"/>
<ellipse cx="180.96" cy="366.44" rx="1.60" ry="3.20" fill="#1c2fd6" transform="rotate(35 180.96 366.44)"/>
<ellipse cx="164.24" cy="391.53" rx="1.60" ry="3.20" fill="#1c2fd6" transform="rotate(30 164.24 391.53)"/>
<ellipse cx="180.96" cy="391.53" rx="1.60" ry="3.20" fill="#1c2fd6" transform="rotate(-30 180.96 391.53)"/>
<path d="M173.58,355.66 C173.88,355.99 174.81,356.83 175.38,357.61 C175.96,358.38 176.56,359.36 177.02,360.33 C177.48,361.30 177.92,362.40 178.17,363.44 C178.41,364.47 178.19,365.38 178.49,366.55 C178.79,367.71 179.60,369.01 179.97,370.44 C180.33,371.86 180.57,373.42 180.70,375.10 C180.84,376.78 180.84,378.86 180.78,380.54 C180.73,382.23 180.70,383.78 180.37,385.21 C180.05,386.63 179.52,387.93 178.82,389.09 C178.12,390.26 177.07,391.30 176.20,392.20 C175.33,393.11 174.35,394.15 173.58,394.54 C172.82,394.93 172.38,394.93 171.62,394.54 C170.85,394.15 169.87,393.11 169.00,392.20 C168.13,391.30 167.08,390.26 166.38,389.09 C165.68,387.93 165.15,386.63 164.83,385.21 C164.50,383.78 164.47,382.23 164.42,380.54 C164.36,378.86 164.36,376.78 164.50,375.10 C164.63,373.42 164.87,371.86 165.23,370.44 C165.60,369.01 166.41,367.71 166.71,366.55 C167.01,365.38 166.79,364.47 167.03,363.44 C167.28,362.40 167.72,361.30 168.18,360.33 C168.64,359.36 169.24,358.38 169.82,357.61 C170.39,356.83 170.99,355.99 171.62,355.66 C172.25,355.34 173.25,355.66 173.58,355.66" fill="#22c4e6"/>
<path d="M173.49,358.34 C173.76,358.61 174.60,359.32 175.11,359.98 C175.63,360.64 176.17,361.46 176.59,362.29 C177.01,363.11 177.40,364.04 177.63,364.92 C177.85,365.80 177.65,366.57 177.92,367.56 C178.19,368.54 178.92,369.64 179.25,370.85 C179.59,372.06 179.79,373.37 179.92,374.80 C180.04,376.23 180.04,377.98 179.99,379.41 C179.94,380.84 179.92,382.15 179.62,383.36 C179.33,384.57 178.85,385.67 178.22,386.65 C177.59,387.64 176.64,388.52 175.85,389.29 C175.06,390.06 174.18,390.93 173.49,391.26 C172.80,391.59 172.40,391.59 171.71,391.26 C171.02,390.93 170.14,390.06 169.35,389.29 C168.56,388.52 167.61,387.64 166.98,386.65 C166.35,385.67 165.87,384.57 165.58,383.36 C165.28,382.15 165.26,380.84 165.21,379.41 C165.16,377.98 165.16,376.23 165.28,374.80 C165.41,373.37 165.61,372.06 165.95,370.85 C166.28,369.64 167.01,368.54 167.28,367.56 C167.55,366.57 167.35,365.80 167.57,364.92 C167.80,364.04 168.19,363.11 168.61,362.29 C169.03,361.46 169.57,360.64 170.09,359.98 C170.60,359.32 171.15,358.61 171.71,358.34 C172.28,358.06 173.19,358.34 173.49,358.34" fill="#4cd84a"/>
<ellipse cx="172.60" cy="387.00" rx="6.80" ry="6.20" fill="#22c4e6"/>
<ellipse cx="170.00" cy="391.00" rx="3.40" ry="3.20" fill="#1c2fd6"/>
<ellipse cx="176.00" cy="390.00" rx="2.40" ry="2.60" fill="#1c2fd6"/>
<ellipse cx="173.20" cy="358.50" rx="2.80" ry="4.40" fill="#f4e420"/>
<ellipse cx="172.60" cy="371.50" rx="7.00" ry="7.40" fill="#f4e420"/>
<ellipse cx="173.20" cy="357.80" rx="1.80" ry="3.20" fill="#e8120c"/>
<ellipse cx="172.60" cy="371.00" rx="5.20" ry="5.20" fill="#e8120c"/>
<ellipse cx="176.50" cy="367.50" rx="2.20" ry="4.00" fill="#e8120c"/>
<ellipse cx="169.00" cy="374.50" rx="2.40" ry="2.60" fill="#e8120c"/>
</g>
<path d="M196.50,396.00 C196.42,398.00 196.22,403.67 196.00,408.00 C195.78,412.33 195.42,417.25 195.20,422.00 C194.98,426.75 194.78,434.08 194.70,436.50" fill="none" stroke="url(#tgg)" stroke-width="2.8" stroke-linecap="round" filter="url(#b2)"/>
<path d="M196.50,396.00 C196.42,398.00 196.22,403.67 196.00,408.00 C195.78,412.33 195.42,417.25 195.20,422.00 C194.98,426.75 194.78,434.08 194.70,436.50" fill="none" stroke="url(#tg)" stroke-width="1.2" stroke-linecap="round" />
<rect x="194.80" y="346.50" width="1.80" height="7.00" fill="#c8ccd4" />
<path d="M196.50,396.00 C196.48,396.17 196.42,396.83 196.40,397.00" fill="none" stroke="#b4b4b4" stroke-width="1.15" stroke-linecap="round" />
<g filter="url(#b1)">
<path d="M196.82,353.00 C197.16,353.39 198.21,354.39 198.86,355.32 C199.51,356.25 200.19,357.41 200.72,358.57 C201.25,359.73 201.75,361.04 202.02,362.28 C202.30,363.52 202.05,364.60 202.40,365.99 C202.74,367.38 203.65,368.93 204.07,370.63 C204.49,372.33 204.75,374.19 204.91,376.20 C205.06,378.21 205.06,380.69 205.00,382.70 C204.94,384.71 204.91,386.56 204.53,388.26 C204.16,389.97 203.56,391.51 202.77,392.90 C201.98,394.30 200.78,395.53 199.79,396.62 C198.80,397.70 197.68,398.94 196.82,399.40 C195.95,399.86 195.45,399.86 194.58,399.40 C193.72,398.94 192.60,397.70 191.61,396.62 C190.62,395.53 189.42,394.30 188.63,392.90 C187.84,391.51 187.24,389.97 186.86,388.26 C186.49,386.56 186.46,384.71 186.40,382.70 C186.34,380.69 186.34,378.21 186.49,376.20 C186.65,374.19 186.91,372.33 187.33,370.63 C187.75,368.93 188.66,367.38 189.00,365.99 C189.34,364.60 189.10,363.52 189.38,362.28 C189.65,361.04 190.15,359.73 190.68,358.57 C191.20,357.41 191.89,356.25 192.54,355.32 C193.19,354.39 193.87,353.39 194.58,353.00 C195.30,352.61 196.44,353.00 196.82,353.00" fill="#1c2fd6"/>
<ellipse cx="186.86" cy="366.92" rx="1.60" ry="3.20" fill="#1c2fd6" transform="rotate(-35 186.86 366.92)"/>
<ellipse cx="204.53" cy="366.92" rx="1.60" ry="3.20" fill="#1c2fd6" transform="rotate(35 204.53 366.92)"/>
<ellipse cx="186.86" cy="392.90" rx="1.60" ry="3.20" fill="#1c2fd6" transform="rotate(30 186.86 392.90)"/>
<ellipse cx="204.53" cy="392.90" rx="1.60" ry="3.20" fill="#1c2fd6" transform="rotate(-30 204.53 392.90)"/>
<path d="M196.74,355.72 C197.06,356.06 198.04,356.93 198.64,357.74 C199.25,358.54 199.88,359.55 200.37,360.56 C200.86,361.57 201.32,362.72 201.58,363.79 C201.84,364.87 201.61,365.81 201.93,367.02 C202.24,368.23 203.09,369.58 203.48,371.06 C203.87,372.54 204.12,374.15 204.26,375.90 C204.41,377.65 204.41,379.80 204.35,381.55 C204.29,383.30 204.26,384.91 203.92,386.39 C203.57,387.87 203.01,389.22 202.27,390.43 C201.54,391.64 200.43,392.72 199.51,393.66 C198.58,394.60 197.55,395.68 196.74,396.08 C195.93,396.48 195.47,396.48 194.66,396.08 C193.85,395.68 192.82,394.60 191.89,393.66 C190.97,392.72 189.86,391.64 189.13,390.43 C188.39,389.22 187.83,387.87 187.48,386.39 C187.14,384.91 187.11,383.30 187.05,381.55 C186.99,379.80 186.99,377.65 187.14,375.90 C187.28,374.15 187.53,372.54 187.92,371.06 C188.31,369.58 189.16,368.23 189.47,367.02 C189.79,365.81 189.56,364.87 189.82,363.79 C190.08,362.72 190.54,361.57 191.03,360.56 C191.52,359.55 192.15,358.54 192.76,357.74 C193.36,356.93 194.00,356.06 194.66,355.72 C195.33,355.38 196.39,355.72 196.74,355.72" fill="#22c4e6"/>
<path d="M196.64,358.46 C196.92,358.75 197.81,359.49 198.36,360.18 C198.90,360.86 199.48,361.72 199.92,362.58 C200.36,363.43 200.78,364.40 201.01,365.32 C201.25,366.23 201.04,367.03 201.32,368.06 C201.61,369.09 202.38,370.23 202.73,371.49 C203.08,372.74 203.30,374.11 203.43,375.60 C203.56,377.09 203.56,378.91 203.51,380.40 C203.46,381.88 203.43,383.25 203.12,384.51 C202.81,385.77 202.30,386.91 201.64,387.94 C200.97,388.97 199.97,389.88 199.14,390.68 C198.30,391.48 197.37,392.39 196.64,392.74 C195.91,393.08 195.49,393.08 194.76,392.74 C194.03,392.39 193.10,391.48 192.26,390.68 C191.43,389.88 190.43,388.97 189.76,387.94 C189.10,386.91 188.59,385.77 188.28,384.51 C187.97,383.25 187.94,381.88 187.89,380.40 C187.84,378.91 187.84,377.09 187.97,375.60 C188.10,374.11 188.32,372.74 188.67,371.49 C189.02,370.23 189.79,369.09 190.08,368.06 C190.36,367.03 190.15,366.23 190.39,365.32 C190.62,364.40 191.04,363.43 191.48,362.58 C191.92,361.72 192.50,360.86 193.04,360.18 C193.59,359.49 194.16,358.75 194.76,358.46 C195.36,358.18 196.32,358.46 196.64,358.46" fill="#4cd84a"/>
<ellipse cx="194.00" cy="360.00" rx="3.80" ry="4.60" fill="#f4e420"/>
<ellipse cx="196.40" cy="377.00" rx="6.60" ry="13.00" fill="#f4e420" transform="rotate(-6 196.40 377.00)"/>
<ellipse cx="193.90" cy="359.50" rx="2.80" ry="3.40" fill="#e8120c"/>
<ellipse cx="196.60" cy="376.50" rx="5.00" ry="10.50" fill="#e8120c" transform="rotate(-6 196.60 376.50)"/>
<ellipse cx="193.00" cy="369.50" rx="2.20" ry="3.40" fill="#e8120c"/>
<ellipse cx="199.00" cy="386.00" rx="2.20" ry="3.20" fill="#e8120c"/>
</g>
<rect x="18.10" y="441.80" width="93.30" height="92.00" fill="#3b3937" />
<rect x="18.10" y="441.80" width="93.30" height="5.80" fill="#4a4846" />
<rect x="22.40" y="445.60" width="1.10" height="6.80" fill="#cfcfcf" />
<rect x="20.20" y="445.20" width="0.80" height="4.50" fill="#9a9a9a" />
<rect x="42.25" y="448.60" width="1.80" height="9.40" fill="#c4c4c4" />
<path d="M39.00,491.50 C39.25,493.42 39.70,498.75 40.50,503.00 C41.30,507.25 42.92,512.77 43.80,517.00 C44.68,521.23 45.47,526.50 45.80,528.40" fill="none" stroke="#bcbcbc" stroke-width="1.05" stroke-linecap="round" />
<g filter="url(#w1)">
<ellipse cx="36.10" cy="463.00" rx="1.50" ry="2.00" fill="#cfcfcf" transform="rotate(-40 36.10 463.00)"/>
<ellipse cx="48.48" cy="463.00" rx="1.50" ry="2.00" fill="#cfcfcf" transform="rotate(40 48.48 463.00)"/>
<ellipse cx="31.54" cy="487.50" rx="1.00" ry="2.60" fill="#c4c4c4" transform="rotate(55 31.54 487.50)"/>
<ellipse cx="47.02" cy="487.50" rx="1.00" ry="2.60" fill="#c4c4c4" transform="rotate(-55 47.02 487.50)"/>
<path d="M43.84,456.00 C43.99,456.41 44.45,457.57 44.74,458.45 C45.03,459.32 45.34,460.32 45.60,461.25 C45.86,462.18 46.00,463.18 46.29,464.05 C46.58,464.93 46.90,465.62 47.36,466.50 C47.83,467.38 48.74,468.13 49.08,469.30 C49.43,470.47 49.44,471.98 49.43,473.50 C49.41,475.02 49.20,476.77 49.00,478.40 C48.80,480.03 48.60,481.90 48.22,483.30 C47.85,484.70 47.46,485.81 46.76,486.80 C46.07,487.79 45.14,488.55 44.05,489.25 C42.96,489.95 41.32,490.71 40.23,491.00 C39.13,491.29 38.50,491.29 37.47,491.00 C36.45,490.71 34.99,489.95 34.08,489.25 C33.16,488.55 32.42,487.79 31.97,486.80 C31.52,485.81 31.40,484.70 31.37,483.30 C31.34,481.90 31.60,480.03 31.80,478.40 C32.00,476.77 32.21,475.02 32.57,473.50 C32.93,471.98 33.32,470.47 33.95,469.30 C34.58,468.13 35.68,467.38 36.36,466.50 C37.04,465.62 37.52,464.93 38.03,464.05 C38.54,463.18 38.92,462.18 39.41,461.25 C39.90,460.32 40.45,459.32 40.96,458.45 C41.47,457.57 41.98,456.41 42.46,456.00 C42.94,455.59 43.61,456.00 43.84,456.00" fill="url(#fur)" filter="url(#furf)"/>
<ellipse cx="41.00" cy="474.50" rx="1.59" ry="3.07" fill="#2a2cc4"/>
<ellipse cx="40.20" cy="480.60" rx="4.39" ry="1.77" fill="#2a2cc4" transform="rotate(-10 40.20 480.60)"/>
<ellipse cx="40.40" cy="482.50" rx="1.59" ry="3.07" fill="#2a2cc4"/>
<ellipse cx="39.60" cy="488.60" rx="1.46" ry="2.12" fill="#2a2cc4"/>
<ellipse cx="33.60" cy="478.00" rx="1.22" ry="3.07" fill="#2a2cc4"/>
</g>
<rect x="61.80" y="448.00" width="1.80" height="9.00" fill="#c4c4c4" />
<path d="M60.40,490.00 C59.92,492.00 58.57,497.83 57.50,502.00 C56.43,506.17 55.00,510.92 54.00,515.00 C53.00,519.08 51.92,524.58 51.50,526.50" fill="none" stroke="#bcbcbc" stroke-width="1.05" stroke-linecap="round" />
<g filter="url(#w1)">
<ellipse cx="56.36" cy="462.00" rx="1.50" ry="2.00" fill="#cfcfcf" transform="rotate(-40 56.36 462.00)"/>
<ellipse cx="69.04" cy="462.00" rx="1.50" ry="2.00" fill="#cfcfcf" transform="rotate(40 69.04 462.00)"/>
<ellipse cx="54.78" cy="486.50" rx="1.00" ry="2.60" fill="#c4c4c4" transform="rotate(55 54.78 486.50)"/>
<ellipse cx="70.62" cy="486.50" rx="1.00" ry="2.60" fill="#c4c4c4" transform="rotate(-55 70.62 486.50)"/>
<path d="M63.40,455.00 C63.61,455.41 64.23,456.57 64.64,457.45 C65.05,458.32 65.49,459.32 65.87,460.25 C66.25,461.18 66.51,462.18 66.92,463.05 C67.33,463.93 67.75,464.62 68.33,465.50 C68.92,466.38 69.95,467.13 70.44,468.30 C70.94,469.47 71.15,470.98 71.32,472.50 C71.50,474.02 71.50,475.77 71.50,477.40 C71.50,479.03 71.53,480.90 71.32,482.30 C71.12,483.70 70.85,484.81 70.27,485.80 C69.68,486.79 68.83,487.55 67.80,488.25 C66.78,488.95 65.19,489.71 64.11,490.00 C63.02,490.29 62.38,490.29 61.29,490.00 C60.21,489.71 58.62,488.95 57.60,488.25 C56.57,487.55 55.72,486.79 55.13,485.80 C54.55,484.81 54.28,483.70 54.08,482.30 C53.87,480.90 53.90,479.03 53.90,477.40 C53.90,475.77 53.90,474.02 54.08,472.50 C54.25,470.98 54.46,469.47 54.96,468.30 C55.45,467.13 56.48,466.38 57.07,465.50 C57.65,464.62 58.07,463.93 58.48,463.05 C58.89,462.18 59.15,461.18 59.53,460.25 C59.91,459.32 60.35,458.32 60.76,457.45 C61.17,456.57 61.56,455.41 62.00,455.00 C62.44,454.59 63.17,455.00 63.40,455.00" fill="url(#fur)" filter="url(#furf)"/>
<ellipse cx="62.70" cy="474.50" rx="2.32" ry="6.14" fill="#2a2cc4" transform="rotate(18 62.70 474.50)"/>
<ellipse cx="65.40" cy="460.40" rx="1.59" ry="1.42" fill="#2a2cc4"/>
</g>
<rect x="81.28" y="449.50" width="1.80" height="10.50" fill="#c4c4c4" />
<path d="M79.60,495.50 C79.77,497.58 79.95,503.75 80.60,508.00 C81.25,512.25 82.57,516.97 83.50,521.00 C84.43,525.03 85.75,530.33 86.20,532.20" fill="none" stroke="#bcbcbc" stroke-width="1.05" stroke-linecap="round" />
<g filter="url(#w1)">
<ellipse cx="75.06" cy="465.60" rx="1.50" ry="2.00" fill="#cfcfcf" transform="rotate(-40 75.06 465.60)"/>
<ellipse cx="87.88" cy="465.60" rx="1.50" ry="2.00" fill="#cfcfcf" transform="rotate(40 87.88 465.60)"/>
<ellipse cx="70.97" cy="492.20" rx="1.00" ry="2.60" fill="#c4c4c4" transform="rotate(55 70.97 492.20)"/>
<ellipse cx="86.99" cy="492.20" rx="1.00" ry="2.60" fill="#c4c4c4" transform="rotate(-55 86.99 492.20)"/>
<path d="M82.89,458.00 C83.06,458.44 83.56,459.71 83.89,460.66 C84.22,461.61 84.56,462.69 84.85,463.70 C85.14,464.71 85.31,465.79 85.63,466.74 C85.96,467.69 86.30,468.45 86.81,469.40 C87.31,470.35 88.27,471.17 88.66,472.44 C89.04,473.71 89.10,475.35 89.12,477.00 C89.15,478.65 88.97,480.55 88.80,482.32 C88.64,484.09 88.48,486.12 88.13,487.64 C87.78,489.16 87.40,490.36 86.70,491.44 C86.01,492.52 85.07,493.34 83.96,494.10 C82.85,494.86 81.17,495.68 80.04,496.00 C78.92,496.32 78.26,496.32 77.20,496.00 C76.13,495.68 74.60,494.86 73.64,494.10 C72.67,493.34 71.89,492.52 71.39,491.44 C70.90,490.36 70.75,489.16 70.68,487.64 C70.62,486.12 70.84,484.09 71.00,482.32 C71.17,480.55 71.35,478.65 71.68,477.00 C72.01,475.35 72.37,473.71 73.00,472.44 C73.62,471.17 74.73,470.35 75.42,469.40 C76.10,468.45 76.58,467.69 77.09,466.74 C77.59,465.79 77.96,464.71 78.44,463.70 C78.92,462.69 79.47,461.61 79.97,460.66 C80.48,459.71 80.98,458.44 81.47,458.00 C81.95,457.56 82.65,458.00 82.89,458.00" fill="url(#fur)" filter="url(#furf)"/>
</g>
<rect x="99.96" y="450.50" width="1.80" height="7.50" fill="#c4c4c4" />
<path d="M96.50,493.50 C96.85,495.58 97.68,501.75 98.60,506.00 C99.52,510.25 101.03,514.95 102.00,519.00 C102.97,523.05 104.00,528.42 104.40,530.30" fill="none" stroke="#bcbcbc" stroke-width="1.05" stroke-linecap="round" />
<g filter="url(#w1)">
<ellipse cx="93.91" cy="463.60" rx="1.50" ry="2.00" fill="#cfcfcf" transform="rotate(-40 93.91 463.60)"/>
<ellipse cx="105.28" cy="463.60" rx="1.50" ry="2.00" fill="#cfcfcf" transform="rotate(40 105.28 463.60)"/>
<ellipse cx="88.06" cy="490.20" rx="1.00" ry="2.60" fill="#c4c4c4" transform="rotate(55 88.06 490.20)"/>
<ellipse cx="102.28" cy="490.20" rx="1.00" ry="2.60" fill="#c4c4c4" transform="rotate(-55 102.28 490.20)"/>
<path d="M101.49,456.00 C101.60,456.44 101.94,457.71 102.16,458.66 C102.37,459.61 102.58,460.69 102.76,461.70 C102.93,462.71 102.99,463.79 103.20,464.74 C103.41,465.69 103.65,466.45 104.02,467.40 C104.39,468.35 105.17,469.17 105.41,470.44 C105.65,471.71 105.56,473.35 105.44,475.00 C105.33,476.65 105.01,478.55 104.72,480.32 C104.42,482.09 104.11,484.12 103.67,485.64 C103.24,487.16 102.80,488.36 102.09,489.44 C101.39,490.52 100.49,491.34 99.44,492.10 C98.39,492.86 96.83,493.68 95.80,494.00 C94.78,494.32 94.20,494.32 93.28,494.00 C92.35,493.68 91.07,492.86 90.27,492.10 C89.48,491.34 88.85,490.52 88.50,489.44 C88.16,488.36 88.12,487.16 88.19,485.64 C88.26,484.12 88.62,482.09 88.92,480.32 C89.21,478.55 89.53,476.65 89.96,475.00 C90.39,473.35 90.85,471.71 91.51,470.44 C92.16,469.17 93.22,468.35 93.91,467.40 C94.59,466.45 95.09,465.69 95.61,464.74 C96.14,463.79 96.56,462.71 97.07,461.70 C97.58,460.69 98.15,459.61 98.68,458.66 C99.21,457.71 99.76,456.44 100.23,456.00 C100.70,455.56 101.28,456.00 101.49,456.00" fill="url(#fur)" filter="url(#furf)"/>
<ellipse cx="94.80" cy="481.30" rx="1.59" ry="3.78" fill="#2a2cc4"/>
<ellipse cx="94.80" cy="482.40" rx="4.15" ry="1.65" fill="#2a2cc4" transform="rotate(12 94.80 482.40)"/>
</g>
<rect x="114.70" y="441.80" width="92.90" height="92.00" fill="#3b3937" />
<rect x="114.70" y="441.80" width="92.90" height="1.60" fill="#454341" />
<rect x="126.70" y="445.70" width="1.80" height="8.30" fill="#c4c4c4" />
<path d="M128.30,494.50 C128.28,496.75 127.98,503.42 128.20,508.00 C128.42,512.58 129.25,517.83 129.60,522.00 C129.95,526.17 130.18,531.17 130.30,533.00" fill="none" stroke="#bcbcbc" stroke-width="1.05" stroke-linecap="round" />
<g filter="url(#w1)">
<ellipse cx="120.90" cy="460.60" rx="1.50" ry="2.00" fill="#cfcfcf" transform="rotate(-40 120.90 460.60)"/>
<ellipse cx="134.30" cy="460.60" rx="1.50" ry="2.00" fill="#cfcfcf" transform="rotate(40 134.30 460.60)"/>
<ellipse cx="119.23" cy="490.70" rx="1.00" ry="2.60" fill="#c4c4c4" transform="rotate(55 119.23 490.70)"/>
<ellipse cx="135.97" cy="490.70" rx="1.00" ry="2.60" fill="#c4c4c4" transform="rotate(-55 135.97 490.70)"/>
<path d="M128.34,452.00 C128.56,452.50 129.21,453.94 129.65,455.01 C130.08,456.08 130.55,457.30 130.95,458.45 C131.35,459.60 131.63,460.81 132.06,461.89 C132.50,462.96 132.93,463.82 133.55,464.90 C134.17,465.97 135.26,466.91 135.78,468.34 C136.31,469.77 136.53,471.64 136.71,473.50 C136.90,475.36 136.90,477.51 136.90,479.52 C136.90,481.53 136.93,483.82 136.71,485.54 C136.50,487.26 136.22,488.62 135.60,489.84 C134.98,491.06 134.08,491.99 132.99,492.85 C131.91,493.71 130.23,494.64 129.09,495.00 C127.94,495.36 127.26,495.36 126.11,495.00 C124.96,494.64 123.29,493.71 122.21,492.85 C121.12,491.99 120.22,491.06 119.60,489.84 C118.98,488.62 118.70,487.26 118.49,485.54 C118.27,483.82 118.30,481.53 118.30,479.52 C118.30,477.51 118.30,475.36 118.49,473.50 C118.67,471.64 118.89,469.77 119.42,468.34 C119.94,466.91 121.03,465.97 121.65,464.90 C122.27,463.82 122.70,462.96 123.14,461.89 C123.57,460.81 123.85,459.60 124.25,458.45 C124.66,457.30 125.12,456.08 125.55,455.01 C125.99,453.94 126.39,452.50 126.86,452.00 C127.32,451.50 128.10,452.00 128.34,452.00" fill="url(#fur)" filter="url(#furf)"/>
<ellipse cx="127.00" cy="475.50" rx="1.83" ry="4.48" fill="#2a2cc4"/>
<ellipse cx="127.40" cy="484.20" rx="4.39" ry="1.77" fill="#2a2cc4"/>
<ellipse cx="127.40" cy="485.50" rx="1.59" ry="3.54" fill="#2a2cc4"/>
<ellipse cx="136.00" cy="484.00" rx="1.71" ry="2.36" fill="#2a2cc4"/>
<ellipse cx="131.00" cy="470.00" rx="1.22" ry="2.12" fill="#2a2cc4"/>
</g>
<rect x="148.30" y="446.70" width="1.80" height="7.30" fill="#c4c4c4" />
<path d="M151.40,491.80 C151.43,494.17 151.67,501.30 151.60,506.00 C151.53,510.70 151.18,515.50 151.00,520.00 C150.82,524.50 150.58,530.83 150.50,533.00" fill="none" stroke="#bcbcbc" stroke-width="1.05" stroke-linecap="round" />
<g filter="url(#w1)">
<ellipse cx="142.72" cy="460.08" rx="1.50" ry="2.00" fill="#cfcfcf" transform="rotate(-40 142.72 460.08)"/>
<ellipse cx="155.68" cy="460.08" rx="1.50" ry="2.00" fill="#cfcfcf" transform="rotate(40 155.68 460.08)"/>
<ellipse cx="141.10" cy="488.36" rx="1.00" ry="2.60" fill="#c4c4c4" transform="rotate(55 141.10 488.36)"/>
<ellipse cx="157.30" cy="488.36" rx="1.00" ry="2.60" fill="#c4c4c4" transform="rotate(-55 157.30 488.36)"/>
<path d="M149.92,452.00 C150.13,452.47 150.76,453.82 151.18,454.83 C151.60,455.84 152.05,456.98 152.44,458.06 C152.83,459.14 153.10,460.28 153.52,461.29 C153.94,462.30 154.36,463.11 154.96,464.12 C155.56,465.13 156.61,466.01 157.12,467.35 C157.63,468.70 157.84,470.45 158.02,472.20 C158.20,473.95 158.20,475.97 158.20,477.86 C158.20,479.74 158.23,481.90 158.02,483.51 C157.81,485.13 157.54,486.41 156.94,487.55 C156.34,488.70 155.47,489.57 154.42,490.38 C153.37,491.19 151.75,492.06 150.64,492.40 C149.53,492.74 148.87,492.74 147.76,492.40 C146.65,492.06 145.03,491.19 143.98,490.38 C142.93,489.57 142.06,488.70 141.46,487.55 C140.86,486.41 140.59,485.13 140.38,483.51 C140.17,481.90 140.20,479.74 140.20,477.86 C140.20,475.97 140.20,473.95 140.38,472.20 C140.56,470.45 140.77,468.70 141.28,467.35 C141.79,466.01 142.84,465.13 143.44,464.12 C144.04,463.11 144.46,462.30 144.88,461.29 C145.30,460.28 145.57,459.14 145.96,458.06 C146.35,456.98 146.80,455.84 147.22,454.83 C147.64,453.82 148.03,452.47 148.48,452.00 C148.93,451.53 149.68,452.00 149.92,452.00" fill="url(#fur)" filter="url(#furf)"/>
<ellipse cx="150.00" cy="457.40" rx="2.81" ry="2.71" fill="#2a2cc4"/>
<ellipse cx="147.80" cy="475.50" rx="5.25" ry="10.15" fill="#2a2cc4"/>
<ellipse cx="152.30" cy="483.50" rx="1.95" ry="2.60" fill="#2a2cc4"/>
</g>
<rect x="168.80" y="445.70" width="1.80" height="8.30" fill="#c4c4c4" />
<path d="M169.70,495.00 C169.65,497.17 169.60,503.67 169.40,508.00 C169.20,512.33 168.77,516.83 168.50,521.00 C168.23,525.17 167.92,531.00 167.80,533.00" fill="none" stroke="#bcbcbc" stroke-width="1.05" stroke-linecap="round" />
<g filter="url(#w1)">
<ellipse cx="163.36" cy="460.80" rx="1.50" ry="2.00" fill="#cfcfcf" transform="rotate(-40 163.36 460.80)"/>
<ellipse cx="176.04" cy="460.80" rx="1.50" ry="2.00" fill="#cfcfcf" transform="rotate(40 176.04 460.80)"/>
<ellipse cx="161.78" cy="491.60" rx="1.00" ry="2.60" fill="#c4c4c4" transform="rotate(55 161.78 491.60)"/>
<ellipse cx="177.62" cy="491.60" rx="1.00" ry="2.60" fill="#c4c4c4" transform="rotate(-55 177.62 491.60)"/>
<path d="M170.40,452.00 C170.61,452.51 171.23,453.98 171.64,455.08 C172.05,456.18 172.49,457.43 172.87,458.60 C173.25,459.77 173.51,461.02 173.92,462.12 C174.33,463.22 174.75,464.10 175.33,465.20 C175.92,466.30 176.95,467.25 177.44,468.72 C177.94,470.19 178.15,472.09 178.32,474.00 C178.50,475.91 178.50,478.11 178.50,480.16 C178.50,482.21 178.53,484.56 178.32,486.32 C178.12,488.08 177.85,489.47 177.27,490.72 C176.68,491.97 175.83,492.92 174.80,493.80 C173.78,494.68 172.19,495.63 171.11,496.00 C170.02,496.37 169.38,496.37 168.29,496.00 C167.21,495.63 165.62,494.68 164.60,493.80 C163.57,492.92 162.72,491.97 162.13,490.72 C161.55,489.47 161.28,488.08 161.08,486.32 C160.87,484.56 160.90,482.21 160.90,480.16 C160.90,478.11 160.90,475.91 161.08,474.00 C161.25,472.09 161.46,470.19 161.96,468.72 C162.45,467.25 163.48,466.30 164.07,465.20 C164.65,464.10 165.07,463.22 165.48,462.12 C165.89,461.02 166.15,459.77 166.53,458.60 C166.91,457.43 167.35,456.18 167.76,455.08 C168.17,453.98 168.56,452.51 169.00,452.00 C169.44,451.49 170.17,452.00 170.40,452.00" fill="url(#fur)" filter="url(#furf)"/>
<ellipse cx="170.70" cy="457.20" rx="2.44" ry="2.36" fill="#2a2cc4"/>
<ellipse cx="169.30" cy="480.50" rx="2.93" ry="14.75" fill="#2a2cc4"/>
<ellipse cx="169.20" cy="484.60" rx="9.03" ry="4.25" fill="#2a2cc4"/>
<ellipse cx="165.00" cy="482.50" rx="4.15" ry="4.96" fill="#2a2cc4"/>
</g>
<rect x="191.70" y="447.60" width="1.80" height="7.40" fill="#c4c4c4" />
<path d="M190.80,495.00 C190.70,497.17 190.43,503.67 190.20,508.00 C189.97,512.33 189.62,516.83 189.40,521.00 C189.18,525.17 188.98,531.00 188.90,533.00" fill="none" stroke="#bcbcbc" stroke-width="1.05" stroke-linecap="round" />
<g filter="url(#w1)">
<ellipse cx="185.98" cy="461.60" rx="1.50" ry="2.00" fill="#cfcfcf" transform="rotate(-40 185.98 461.60)"/>
<ellipse cx="199.22" cy="461.60" rx="1.50" ry="2.00" fill="#cfcfcf" transform="rotate(40 199.22 461.60)"/>
<ellipse cx="184.32" cy="491.70" rx="1.00" ry="2.60" fill="#c4c4c4" transform="rotate(55 184.32 491.70)"/>
<ellipse cx="200.88" cy="491.70" rx="1.00" ry="2.60" fill="#c4c4c4" transform="rotate(-55 200.88 491.70)"/>
<path d="M193.34,453.00 C193.55,453.50 194.19,454.94 194.62,456.01 C195.05,457.08 195.51,458.30 195.91,459.45 C196.31,460.60 196.59,461.81 197.02,462.89 C197.45,463.96 197.87,464.82 198.49,465.90 C199.10,466.97 200.17,467.91 200.70,469.34 C201.22,470.77 201.43,472.64 201.62,474.50 C201.80,476.36 201.80,478.51 201.80,480.52 C201.80,482.53 201.83,484.82 201.62,486.54 C201.40,488.26 201.13,489.62 200.51,490.84 C199.90,492.06 199.01,492.99 197.94,493.85 C196.86,494.71 195.21,495.64 194.07,496.00 C192.94,496.36 192.26,496.36 191.13,496.00 C189.99,495.64 188.34,494.71 187.26,493.85 C186.19,492.99 185.30,492.06 184.69,490.84 C184.07,489.62 183.80,488.26 183.58,486.54 C183.37,484.82 183.40,482.53 183.40,480.52 C183.40,478.51 183.40,476.36 183.58,474.50 C183.77,472.64 183.98,470.77 184.50,469.34 C185.03,467.91 186.10,466.97 186.71,465.90 C187.33,464.82 187.75,463.96 188.18,462.89 C188.61,461.81 188.89,460.60 189.29,459.45 C189.69,458.30 190.15,457.08 190.58,456.01 C191.01,454.94 191.40,453.50 191.86,453.00 C192.32,452.50 193.09,453.00 193.34,453.00" fill="url(#fur)" filter="url(#furf)"/>
<ellipse cx="191.80" cy="460.10" rx="2.44" ry="2.36" fill="#2a2cc4"/>
<ellipse cx="192.80" cy="481.50" rx="3.42" ry="14.16" fill="#2a2cc4" transform="rotate(3 192.80 481.50)"/>
<ellipse cx="189.50" cy="487.00" rx="2.44" ry="3.78" fill="#2a2cc4"/>
</g>
<text transform="translate(226.00,296.80)" font-size="10.5" text-anchor="start" fill="#000" font-weight="bold" font-style="normal" >F</text>
<line x1="256.60" y1="303.00" x2="256.60" y2="387.80" stroke="#1a1a1a" stroke-width="1.1" />
<line x1="253.20" y1="387.30" x2="337.70" y2="387.30" stroke="#1a1a1a" stroke-width="1.1" />
<line x1="253.20" y1="387.30" x2="256.60" y2="387.30" stroke="#1a1a1a" stroke-width="0.9" />
<text transform="translate(250.60,389.40)" font-size="5.9" text-anchor="end" fill="#222" font-weight="normal" font-style="normal" >0</text>
<line x1="253.20" y1="367.00" x2="256.60" y2="367.00" stroke="#1a1a1a" stroke-width="0.9" />
<text transform="translate(250.60,369.10)" font-size="5.9" text-anchor="end" fill="#222" font-weight="normal" font-style="normal" >5</text>
<line x1="253.20" y1="346.70" x2="256.60" y2="346.70" stroke="#1a1a1a" stroke-width="0.9" />
<text transform="translate(250.60,348.80)" font-size="5.9" text-anchor="end" fill="#222" font-weight="normal" font-style="normal" >10</text>
<line x1="253.20" y1="326.40" x2="256.60" y2="326.40" stroke="#1a1a1a" stroke-width="0.9" />
<text transform="translate(250.60,328.50)" font-size="5.9" text-anchor="end" fill="#222" font-weight="normal" font-style="normal" >15</text>
<line x1="253.20" y1="306.10" x2="256.60" y2="306.10" stroke="#1a1a1a" stroke-width="0.9" />
<text transform="translate(250.60,308.20)" font-size="5.9" text-anchor="end" fill="#222" font-weight="normal" font-style="normal" >20</text>
<line x1="274.80" y1="387.30" x2="274.80" y2="389.70" stroke="#1a1a1a" stroke-width="0.9" />
<text transform="translate(274.80,398.80)" font-size="5.6" text-anchor="middle" fill="#222" font-weight="normal" font-style="normal" >Day16</text>
<line x1="318.00" y1="387.30" x2="318.00" y2="389.70" stroke="#1a1a1a" stroke-width="0.9" />
<text transform="translate(318.00,398.80)" font-size="5.6" text-anchor="middle" fill="#222" font-weight="normal" font-style="normal" >Day18</text>
<circle cx="262.70" cy="308.80" r="1.70" fill="#c8202f"/><circle cx="262.70" cy="308.80" r="0.55" fill="#f3c3c8"/>
<text transform="translate(267.40,310.70)" font-size="5.4" text-anchor="start" fill="#222" font-weight="normal" font-style="normal" >Vehicle</text>
<rect x="261.05" y="315.85" width="3.30" height="3.30" fill="#1f4f8f"/><rect x="262.20" y="317.00" width="1" height="1" fill="#9fb4d4"/>
<text transform="translate(267.40,319.50)" font-size="5.4" text-anchor="start" fill="#222" font-weight="normal" font-style="normal" >A-485</text>
<line x1="263.20" y1="365.40" x2="271.20" y2="365.40" stroke="#c8202f" stroke-width="0.9" />
<line x1="267.20" y1="362.20" x2="267.20" y2="368.60" stroke="#c8202f" stroke-width="0.9" />
<line x1="265.60" y1="362.20" x2="268.80" y2="362.20" stroke="#c8202f" stroke-width="0.8" />
<line x1="265.60" y1="368.60" x2="268.80" y2="368.60" stroke="#c8202f" stroke-width="0.8" />
<circle cx="265.40" cy="362.60" r="1.85" fill="#c8202f"/><circle cx="265.40" cy="362.60" r="0.55" fill="#f3c3c8"/>
<circle cx="263.40" cy="369.20" r="1.85" fill="#c8202f"/><circle cx="263.40" cy="369.20" r="0.55" fill="#f3c3c8"/>
<circle cx="266.20" cy="369.40" r="1.85" fill="#c8202f"/><circle cx="266.20" cy="369.40" r="0.55" fill="#f3c3c8"/>
<circle cx="268.80" cy="369.20" r="1.85" fill="#c8202f"/><circle cx="268.80" cy="369.20" r="0.55" fill="#f3c3c8"/>
<circle cx="271.20" cy="369.40" r="1.85" fill="#c8202f"/><circle cx="271.20" cy="369.40" r="0.55" fill="#f3c3c8"/>
<circle cx="267.60" cy="366.00" r="1.85" fill="#c8202f"/><circle cx="267.60" cy="366.00" r="0.55" fill="#f3c3c8"/>
<rect x="277.85" y="383.65" width="3.50" height="3.50" fill="#1f4f8f"/><rect x="279.10" y="384.90" width="1" height="1" fill="#9fb4d4"/>
<rect x="280.05" y="383.25" width="3.50" height="3.50" fill="#1f4f8f"/><rect x="281.30" y="384.50" width="1" height="1" fill="#9fb4d4"/>
<rect x="282.25" y="383.65" width="3.50" height="3.50" fill="#1f4f8f"/><rect x="283.50" y="384.90" width="1" height="1" fill="#9fb4d4"/>
<rect x="284.45" y="383.65" width="3.50" height="3.50" fill="#1f4f8f"/><rect x="285.70" y="384.90" width="1" height="1" fill="#9fb4d4"/>
<rect x="286.05" y="384.05" width="3.50" height="3.50" fill="#1f4f8f"/><rect x="287.30" y="385.30" width="1" height="1" fill="#9fb4d4"/>
<line x1="310.40" y1="320.40" x2="310.40" y2="356.40" stroke="#c8202f" stroke-width="0.9" />
<line x1="308.00" y1="320.40" x2="312.80" y2="320.40" stroke="#c8202f" stroke-width="0.9" />
<line x1="308.00" y1="356.40" x2="312.80" y2="356.40" stroke="#c8202f" stroke-width="0.9" />
<line x1="305.40" y1="338.50" x2="315.40" y2="338.50" stroke="#c8202f" stroke-width="0.9" />
<circle cx="310.30" cy="312.30" r="2.00" fill="#c8202f"/><circle cx="310.30" cy="312.30" r="0.55" fill="#f3c3c8"/>
<circle cx="310.60" cy="329.00" r="2.00" fill="#c8202f"/><circle cx="310.60" cy="329.00" r="0.55" fill="#f3c3c8"/>
<circle cx="306.60" cy="343.50" r="2.00" fill="#c8202f"/><circle cx="306.60" cy="343.50" r="0.55" fill="#f3c3c8"/>
<circle cx="311.80" cy="347.00" r="2.00" fill="#c8202f"/><circle cx="311.80" cy="347.00" r="0.55" fill="#f3c3c8"/>
<circle cx="310.60" cy="358.50" r="2.00" fill="#c8202f"/><circle cx="310.60" cy="358.50" r="0.55" fill="#f3c3c8"/>
<rect x="320.85" y="382.85" width="3.50" height="3.50" fill="#1f4f8f"/><rect x="322.10" y="384.10" width="1" height="1" fill="#9fb4d4"/>
<rect x="322.85" y="380.65" width="3.50" height="3.50" fill="#1f4f8f"/><rect x="324.10" y="381.90" width="1" height="1" fill="#9fb4d4"/>
<rect x="324.85" y="383.05" width="3.50" height="3.50" fill="#1f4f8f"/><rect x="326.10" y="384.30" width="1" height="1" fill="#9fb4d4"/>
<rect x="326.85" y="380.25" width="3.50" height="3.50" fill="#1f4f8f"/><rect x="328.10" y="381.50" width="1" height="1" fill="#9fb4d4"/>
<rect x="328.85" y="383.25" width="3.50" height="3.50" fill="#1f4f8f"/><rect x="330.10" y="384.50" width="1" height="1" fill="#9fb4d4"/>
<rect x="326.65" y="378.05" width="3.50" height="3.50" fill="#1f4f8f"/><rect x="327.90" y="379.30" width="1" height="1" fill="#9fb4d4"/>
<line x1="266.00" y1="355.60" x2="282.00" y2="355.60" stroke="#23405f" stroke-width="0.9" />
<text transform="translate(274.00,355.20)" font-size="5.6" text-anchor="middle" fill="#222" font-weight="normal" font-style="normal" >****</text>
<line x1="310.90" y1="307.40" x2="326.70" y2="307.40" stroke="#23405f" stroke-width="0.9" />
<text transform="translate(318.80,307.00)" font-size="5.6" text-anchor="middle" fill="#222" font-weight="normal" font-style="normal" >****</text>
<text transform="translate(238.20,345.00) rotate(-90) scale(0.7212,1)" font-size="7.8" text-anchor="middle" fill="#111" stroke="#111" stroke-width="0.18" stroke-linejoin="round">% human CD45+ in PB</text>
<text transform="translate(352.60,296.80)" font-size="10.5" text-anchor="start" fill="#000" font-weight="bold" font-style="normal" >G</text>
<polyline fill="none" stroke="#2d5da8" stroke-width="0.95" points="386.50,312.70 481.33,312.70 481.33,337.28 485.45,337.28 485.45,349.95 489.57,349.95 489.57,374.53 493.70,374.53 493.70,387.20"/>
<polyline fill="none" stroke="#e5432b" stroke-width="0.95" points="386.50,312.70 456.59,312.70 456.59,327.60 460.71,327.60 460.71,357.40 464.84,357.40 464.84,387.20"/>
<line x1="386.50" y1="304.50" x2="386.50" y2="389.80" stroke="#1a1a1a" stroke-width="1.1" />
<line x1="383.90" y1="387.20" x2="512.50" y2="387.20" stroke="#1a1a1a" stroke-width="1.1" />
<line x1="383.70" y1="387.20" x2="386.50" y2="387.20" stroke="#1a1a1a" stroke-width="0.9" />
<text transform="translate(380.90,389.30)" font-size="6.0" text-anchor="end" fill="#222" font-weight="normal" font-style="normal" >0</text>
<line x1="383.70" y1="349.95" x2="386.50" y2="349.95" stroke="#1a1a1a" stroke-width="0.9" />
<text transform="translate(380.90,352.05)" font-size="6.0" text-anchor="end" fill="#222" font-weight="normal" font-style="normal" >50</text>
<line x1="383.70" y1="312.70" x2="386.50" y2="312.70" stroke="#1a1a1a" stroke-width="0.9" />
<text transform="translate(380.90,314.80)" font-size="6.0" text-anchor="end" fill="#222" font-weight="normal" font-style="normal" >100</text>
<line x1="384.90" y1="368.57" x2="386.50" y2="368.57" stroke="#1a1a1a" stroke-width="0.7" />
<line x1="384.90" y1="331.32" x2="386.50" y2="331.32" stroke="#1a1a1a" stroke-width="0.7" />
<line x1="386.50" y1="387.20" x2="386.50" y2="390.00" stroke="#1a1a1a" stroke-width="0.9" />
<text transform="translate(386.50,398.30)" font-size="6.0" text-anchor="middle" fill="#222" font-weight="normal" font-style="normal" >0</text>
<line x1="427.73" y1="387.20" x2="427.73" y2="390.00" stroke="#1a1a1a" stroke-width="0.9" />
<text transform="translate(427.73,398.30)" font-size="6.0" text-anchor="middle" fill="#222" font-weight="normal" font-style="normal" >10</text>
<line x1="468.96" y1="387.20" x2="468.96" y2="390.00" stroke="#1a1a1a" stroke-width="0.9" />
<text transform="translate(468.96,398.30)" font-size="6.0" text-anchor="middle" fill="#222" font-weight="normal" font-style="normal" >20</text>
<line x1="510.19" y1="387.20" x2="510.19" y2="390.00" stroke="#1a1a1a" stroke-width="0.9" />
<text transform="translate(510.19,398.30)" font-size="6.0" text-anchor="middle" fill="#222" font-weight="normal" font-style="normal" >30</text>
<line x1="407.12" y1="387.20" x2="407.12" y2="388.80" stroke="#1a1a1a" stroke-width="0.7" />
<line x1="448.35" y1="387.20" x2="448.35" y2="388.80" stroke="#1a1a1a" stroke-width="0.7" />
<line x1="489.57" y1="387.20" x2="489.57" y2="388.80" stroke="#1a1a1a" stroke-width="0.7" />
<line x1="395.20" y1="369.10" x2="403.80" y2="369.10" stroke="#e5432b" stroke-width="0.9" />
<path d="M398.2,370.2 L399.5,367.7 L400.8,370.2 Z" fill="#e5432b"/>
<text transform="translate(406.80,371.00)" font-size="5.2" text-anchor="start" fill="#222" font-weight="normal" font-style="normal" >Vehicle</text>
<line x1="395.20" y1="378.00" x2="403.80" y2="378.00" stroke="#2d5da8" stroke-width="0.9" />
<path d="M398.2,379.1 L399.5,376.6 L400.8,379.1 Z" fill="#2d5da8"/>
<text transform="translate(406.80,379.90)" font-size="5.2" text-anchor="start" fill="#222" font-weight="normal" font-style="normal" >A-485</text>
<polyline fill="none" stroke="#111" stroke-width="1.15" points="429.6,368.9 434.3,368.9 434.3,377.4 429.6,377.4"/>
<text transform="translate(440.20,375.60)" font-size="6.2" text-anchor="middle" fill="#222" font-weight="normal" font-style="normal" >**</text>
<text transform="translate(449.70,409.60) scale(0.6246,1)" font-size="7.8" text-anchor="middle" fill="#111" stroke="#111" stroke-width="0.18" stroke-linejoin="round">Days</text>
<text transform="translate(364.90,346.00) rotate(-90) scale(0.7337,1)" font-size="7.8" text-anchor="middle" fill="#111" stroke="#111" stroke-width="0.18" stroke-linejoin="round">Percent survival (%)</text>
<text transform="translate(222.60,435.70)" font-size="10.5" text-anchor="start" fill="#000" font-weight="bold" font-style="normal" >H</text>
<line x1="255.70" y1="441.60" x2="255.70" y2="558.70" stroke="#1a1a1a" stroke-width="1.1" />
<line x1="252.10" y1="555.70" x2="369.50" y2="555.70" stroke="#1a1a1a" stroke-width="1.1" />
<line x1="252.10" y1="555.70" x2="255.70" y2="555.70" stroke="#1a1a1a" stroke-width="0.9" />
<text transform="translate(249.50,557.80)" font-size="5.9" text-anchor="end" fill="#222" font-weight="normal" font-style="normal" >0</text>
<line x1="252.10" y1="503.95" x2="255.70" y2="503.95" stroke="#1a1a1a" stroke-width="0.9" />
<text transform="translate(249.50,506.05)" font-size="5.9" text-anchor="end" fill="#222" font-weight="normal" font-style="normal" >50</text>
<line x1="252.10" y1="452.20" x2="255.70" y2="452.20" stroke="#1a1a1a" stroke-width="0.9" />
<text transform="translate(249.50,454.30)" font-size="5.9" text-anchor="end" fill="#222" font-weight="normal" font-style="normal" >100</text>
<line x1="255.70" y1="555.70" x2="255.70" y2="558.30" stroke="#1a1a1a" stroke-width="0.9" />
<text transform="translate(255.70,567.20)" font-size="5.9" text-anchor="middle" fill="#222" font-weight="normal" font-style="normal" >0</text>
<line x1="277.64" y1="555.70" x2="277.64" y2="558.30" stroke="#1a1a1a" stroke-width="0.9" />
<text transform="translate(277.64,567.20)" font-size="5.9" text-anchor="middle" fill="#222" font-weight="normal" font-style="normal" >1</text>
<line x1="299.58" y1="555.70" x2="299.58" y2="558.30" stroke="#1a1a1a" stroke-width="0.9" />
<text transform="translate(299.58,567.20)" font-size="5.9" text-anchor="middle" fill="#222" font-weight="normal" font-style="normal" >2</text>
<line x1="321.52" y1="555.70" x2="321.52" y2="558.30" stroke="#1a1a1a" stroke-width="0.9" />
<text transform="translate(321.52,567.20)" font-size="5.9" text-anchor="middle" fill="#222" font-weight="normal" font-style="normal" >3</text>
<line x1="343.46" y1="555.70" x2="343.46" y2="558.30" stroke="#1a1a1a" stroke-width="0.9" />
<text transform="translate(343.46,567.20)" font-size="5.9" text-anchor="middle" fill="#222" font-weight="normal" font-style="normal" >4</text>
<line x1="365.40" y1="555.70" x2="365.40" y2="558.30" stroke="#1a1a1a" stroke-width="0.9" />
<text transform="translate(365.40,567.20)" font-size="5.9" text-anchor="middle" fill="#222" font-weight="normal" font-style="normal" >5</text>
<path fill="none" stroke="#3fa9dc" stroke-width="1.4" stroke-linejoin="round" d="M255.70,455.10 C259.36,455.17 270.33,455.22 277.64,455.51 C284.95,455.81 292.27,456.10 299.58,456.86 C306.89,457.62 316.03,459.19 321.52,460.07 C327.00,460.95 328.83,461.26 332.49,462.14 C336.15,463.02 339.80,463.38 343.46,465.34 C347.12,467.31 350.77,469.92 354.43,473.94 C358.09,477.95 363.57,486.87 365.40,489.46"/>
<line x1="255.70" y1="452.20" x2="255.70" y2="456.34" stroke="#3fa9dc" stroke-width="1.0" />
<line x1="253.30" y1="452.20" x2="258.10" y2="452.20" stroke="#3fa9dc" stroke-width="1.0" />
<line x1="253.30" y1="456.34" x2="258.10" y2="456.34" stroke="#3fa9dc" stroke-width="1.0" />
<line x1="277.64" y1="451.17" x2="277.64" y2="461.52" stroke="#3fa9dc" stroke-width="1.0" />
<line x1="275.24" y1="451.17" x2="280.04" y2="451.17" stroke="#3fa9dc" stroke-width="1.0" />
<line x1="275.24" y1="461.52" x2="280.04" y2="461.52" stroke="#3fa9dc" stroke-width="1.0" />
<line x1="299.58" y1="448.06" x2="299.58" y2="464.62" stroke="#3fa9dc" stroke-width="1.0" />
<line x1="297.18" y1="448.06" x2="301.98" y2="448.06" stroke="#3fa9dc" stroke-width="1.0" />
<line x1="297.18" y1="464.62" x2="301.98" y2="464.62" stroke="#3fa9dc" stroke-width="1.0" />
<line x1="321.52" y1="452.20" x2="321.52" y2="470.83" stroke="#3fa9dc" stroke-width="1.0" />
<line x1="319.12" y1="452.20" x2="323.92" y2="452.20" stroke="#3fa9dc" stroke-width="1.0" />
<line x1="319.12" y1="470.83" x2="323.92" y2="470.83" stroke="#3fa9dc" stroke-width="1.0" />
<line x1="343.46" y1="456.34" x2="343.46" y2="472.90" stroke="#3fa9dc" stroke-width="1.0" />
<line x1="341.06" y1="456.34" x2="345.86" y2="456.34" stroke="#3fa9dc" stroke-width="1.0" />
<line x1="341.06" y1="472.90" x2="345.86" y2="472.90" stroke="#3fa9dc" stroke-width="1.0" />
<line x1="365.40" y1="481.18" x2="365.40" y2="497.74" stroke="#3fa9dc" stroke-width="1.0" />
<line x1="363.00" y1="481.18" x2="367.80" y2="481.18" stroke="#3fa9dc" stroke-width="1.0" />
<line x1="363.00" y1="497.74" x2="367.80" y2="497.74" stroke="#3fa9dc" stroke-width="1.0" />
<circle cx="255.70" cy="454.27" r="2.80" fill="#3fa9dc" />
<circle cx="277.64" cy="456.34" r="2.80" fill="#3fa9dc" />
<circle cx="299.58" cy="456.34" r="2.80" fill="#3fa9dc" />
<circle cx="321.52" cy="461.52" r="2.80" fill="#3fa9dc" />
<circle cx="343.46" cy="464.62" r="2.80" fill="#3fa9dc" />
<circle cx="365.40" cy="489.46" r="2.80" fill="#3fa9dc" />
<path fill="none" stroke="#f0932b" stroke-width="1.4" stroke-linejoin="round" d="M255.70,453.75 C257.53,454.25 263.01,455.36 266.67,456.75 C270.33,458.15 273.98,459.53 277.64,462.14 C281.30,464.74 284.95,468.64 288.61,472.38 C292.27,476.13 295.92,480.63 299.58,484.60 C303.24,488.56 306.89,492.43 310.55,496.19 C314.21,499.95 316.03,501.03 321.52,507.16 C327.00,513.28 336.15,525.41 343.46,532.93 C350.77,540.45 361.74,549.06 365.40,552.28"/>
<line x1="255.70" y1="444.96" x2="255.70" y2="451.17" stroke="#f0932b" stroke-width="1.0" />
<line x1="253.30" y1="444.96" x2="258.10" y2="444.96" stroke="#f0932b" stroke-width="1.0" />
<line x1="253.30" y1="451.17" x2="258.10" y2="451.17" stroke="#f0932b" stroke-width="1.0" />
<line x1="277.64" y1="457.38" x2="277.64" y2="465.66" stroke="#f0932b" stroke-width="1.0" />
<line x1="275.24" y1="457.38" x2="280.04" y2="457.38" stroke="#f0932b" stroke-width="1.0" />
<line x1="275.24" y1="465.66" x2="280.04" y2="465.66" stroke="#f0932b" stroke-width="1.0" />
<line x1="299.58" y1="479.11" x2="299.58" y2="497.74" stroke="#f0932b" stroke-width="1.0" />
<line x1="297.18" y1="479.11" x2="301.98" y2="479.11" stroke="#f0932b" stroke-width="1.0" />
<line x1="297.18" y1="497.74" x2="301.98" y2="497.74" stroke="#f0932b" stroke-width="1.0" />
<line x1="321.52" y1="500.85" x2="321.52" y2="507.06" stroke="#f0932b" stroke-width="1.0" />
<line x1="319.12" y1="500.85" x2="323.92" y2="500.85" stroke="#f0932b" stroke-width="1.0" />
<line x1="319.12" y1="507.06" x2="323.92" y2="507.06" stroke="#f0932b" stroke-width="1.0" />
<line x1="343.46" y1="523.62" x2="343.46" y2="542.25" stroke="#f0932b" stroke-width="1.0" />
<line x1="341.06" y1="523.62" x2="345.86" y2="523.62" stroke="#f0932b" stroke-width="1.0" />
<line x1="341.06" y1="542.25" x2="345.86" y2="542.25" stroke="#f0932b" stroke-width="1.0" />
<line x1="365.40" y1="547.42" x2="365.40" y2="557.77" stroke="#f0932b" stroke-width="1.0" />
<line x1="363.00" y1="547.42" x2="367.80" y2="547.42" stroke="#f0932b" stroke-width="1.0" />
<line x1="363.00" y1="557.77" x2="367.80" y2="557.77" stroke="#f0932b" stroke-width="1.0" />
<rect x="253.20" y="445.56" width="5.00" height="5.00" fill="#f0932b" />
<rect x="275.14" y="459.02" width="5.00" height="5.00" fill="#f0932b" />
<rect x="297.08" y="485.93" width="5.00" height="5.00" fill="#f0932b" />
<rect x="319.02" y="501.45" width="5.00" height="5.00" fill="#f0932b" />
<rect x="340.96" y="530.43" width="5.00" height="5.00" fill="#f0932b" />
<rect x="362.90" y="550.10" width="5.00" height="5.00" fill="#f0932b" />
<path fill="none" stroke="#c11a33" stroke-width="1.4" stroke-linejoin="round" d="M255.70,459.45 C257.53,460.03 263.01,461.41 266.67,462.96 C270.33,464.52 273.98,466.33 277.64,468.76 C281.30,471.19 284.95,474.19 288.61,477.56 C292.27,480.92 295.92,485.32 299.58,488.94 C303.24,492.57 306.89,495.83 310.55,499.29 C314.21,502.76 316.03,504.23 321.52,509.75 C327.00,515.27 336.15,525.44 343.46,532.41 C350.77,539.38 361.74,548.37 365.40,551.56"/>
<line x1="255.70" y1="458.41" x2="255.70" y2="460.48" stroke="#c11a33" stroke-width="1.0" />
<line x1="253.30" y1="458.41" x2="258.10" y2="458.41" stroke="#c11a33" stroke-width="1.0" />
<line x1="253.30" y1="460.48" x2="258.10" y2="460.48" stroke="#c11a33" stroke-width="1.0" />
<line x1="277.64" y1="464.62" x2="277.64" y2="472.90" stroke="#c11a33" stroke-width="1.0" />
<line x1="275.24" y1="464.62" x2="280.04" y2="464.62" stroke="#c11a33" stroke-width="1.0" />
<line x1="275.24" y1="472.90" x2="280.04" y2="472.90" stroke="#c11a33" stroke-width="1.0" />
<line x1="299.58" y1="481.18" x2="299.58" y2="503.95" stroke="#c11a33" stroke-width="1.0" />
<line x1="297.18" y1="481.18" x2="301.98" y2="481.18" stroke="#c11a33" stroke-width="1.0" />
<line x1="297.18" y1="503.95" x2="301.98" y2="503.95" stroke="#c11a33" stroke-width="1.0" />
<line x1="321.52" y1="501.88" x2="321.52" y2="518.44" stroke="#c11a33" stroke-width="1.0" />
<line x1="319.12" y1="501.88" x2="323.92" y2="501.88" stroke="#c11a33" stroke-width="1.0" />
<line x1="319.12" y1="518.44" x2="323.92" y2="518.44" stroke="#c11a33" stroke-width="1.0" />
<line x1="343.46" y1="529.83" x2="343.46" y2="536.04" stroke="#c11a33" stroke-width="1.0" />
<line x1="341.06" y1="529.83" x2="345.86" y2="529.83" stroke="#c11a33" stroke-width="1.0" />
<line x1="341.06" y1="536.04" x2="345.86" y2="536.04" stroke="#c11a33" stroke-width="1.0" />
<line x1="365.40" y1="543.28" x2="365.40" y2="559.84" stroke="#c11a33" stroke-width="1.0" />
<line x1="363.00" y1="543.28" x2="367.80" y2="543.28" stroke="#c11a33" stroke-width="1.0" />
<line x1="363.00" y1="559.84" x2="367.80" y2="559.84" stroke="#c11a33" stroke-width="1.0" />
<path d="M252.60,461.75 L255.70,456.15 L258.80,461.75 Z" fill="#c11a33"/>
<path d="M274.54,471.06 L277.64,465.46 L280.74,471.06 Z" fill="#c11a33"/>
<path d="M296.48,494.87 L299.58,489.27 L302.68,494.87 Z" fill="#c11a33"/>
<path d="M318.42,512.46 L321.52,506.86 L324.62,512.46 Z" fill="#c11a33"/>
<path d="M340.36,535.23 L343.46,529.63 L346.56,535.23 Z" fill="#c11a33"/>
<path d="M362.30,553.86 L365.40,548.26 L368.50,553.86 Z" fill="#c11a33"/>
<line x1="258.60" y1="531.00" x2="271.00" y2="531.00" stroke="#c11a33" stroke-width="1.5" />
<path d="M261.8,533.3 L264.9,527.7 L268.0,533.3 Z" fill="#c11a33"/>
<line x1="258.60" y1="540.30" x2="271.00" y2="540.30" stroke="#f0932b" stroke-width="1.5" />
<rect x="262.40" y="537.80" width="5.00" height="5.00" fill="#f0932b" />
<line x1="258.60" y1="550.30" x2="271.00" y2="550.30" stroke="#3fa9dc" stroke-width="1.5" />
<circle cx="264.90" cy="550.30" r="2.80" fill="#3fa9dc" />
<text transform="translate(273.70,532.90)" font-size="5.3" text-anchor="start" fill="#222" font-weight="normal" font-style="normal" >AML</text>
<text transform="translate(273.70,542.20)" font-size="5.3" text-anchor="start" fill="#222" font-weight="normal" font-style="normal" >MPAL</text>
<text transform="translate(273.70,552.20)" font-size="5.3" text-anchor="start" fill="#222" font-weight="normal" font-style="normal" >ALL</text>
<text transform="translate(313.10,578.60) scale(0.7211,1)" font-size="7.8" text-anchor="middle" fill="#111" stroke="#111" stroke-width="0.18" stroke-linejoin="round">Log(A-485 conc.)(nM)</text>
<text transform="translate(236.40,501.00) rotate(-90) scale(0.8888,1)" font-size="7.8" text-anchor="middle" fill="#111" stroke="#111" stroke-width="0.18" stroke-linejoin="round">% viable cells</text>
<text transform="translate(385.30,435.70)" font-size="10.5" text-anchor="start" fill="#000" font-weight="bold" font-style="normal" >I</text>
<text transform="translate(463.70,462.00)" font-size="8.15" text-anchor="middle" fill="#222" font-weight="normal" font-style="normal" >AML Patients with MLLr</text>
<rect x="432.00" y="487.40" width="24.20" height="66.90" fill="#c9082a" />
<rect x="469.10" y="521.85" width="23.80" height="32.45" fill="#135294" />
<line x1="419.00" y1="467.50" x2="419.00" y2="554.80" stroke="#1a1a1a" stroke-width="1.1" />
<line x1="416.10" y1="554.30" x2="505.60" y2="554.30" stroke="#1a1a1a" stroke-width="1.1" />
<line x1="416.10" y1="554.30" x2="419.00" y2="554.30" stroke="#1a1a1a" stroke-width="0.9" />
<text transform="translate(412.40,556.30)" font-size="5.6" text-anchor="end" fill="#222" font-weight="normal" font-style="normal" >0</text>
<line x1="416.10" y1="520.85" x2="419.00" y2="520.85" stroke="#1a1a1a" stroke-width="0.9" />
<text transform="translate(412.40,522.85)" font-size="5.6" text-anchor="end" fill="#222" font-weight="normal" font-style="normal" >50</text>
<line x1="416.10" y1="487.40" x2="419.00" y2="487.40" stroke="#1a1a1a" stroke-width="0.9" />
<text transform="translate(412.40,489.40)" font-size="5.6" text-anchor="end" fill="#222" font-weight="normal" font-style="normal" >100</text>
<line x1="444.10" y1="554.30" x2="444.10" y2="556.70" stroke="#1a1a1a" stroke-width="0.9" />
<line x1="481.00" y1="554.30" x2="481.00" y2="556.70" stroke="#1a1a1a" stroke-width="0.9" />
<text transform="translate(444.10,565.60)" font-size="5.8" text-anchor="middle" fill="#222" font-weight="normal" font-style="normal" >DMSO</text>
<text transform="translate(481.00,565.60)" font-size="5.8" text-anchor="middle" fill="#222" font-weight="normal" font-style="normal" >A-485</text>
<line x1="444.10" y1="478.30" x2="444.10" y2="488.40" stroke="#1a1a1a" stroke-width="1.1" />
<line x1="438.10" y1="478.30" x2="450.10" y2="478.30" stroke="#1a1a1a" stroke-width="1.1" />
<circle cx="443.80" cy="473.30" r="2.25" fill="#1a1a1a" />
<circle cx="436.90" cy="478.50" r="2.25" fill="#1a1a1a" />
<circle cx="436.90" cy="483.90" r="2.25" fill="#1a1a1a" />
<circle cx="450.80" cy="484.80" r="2.25" fill="#1a1a1a" />
<circle cx="450.80" cy="490.00" r="2.25" fill="#1a1a1a" />
<circle cx="444.20" cy="491.70" r="2.25" fill="#1a1a1a" />
<circle cx="444.20" cy="496.70" r="2.25" fill="#1a1a1a" />
<circle cx="444.20" cy="502.70" r="2.25" fill="#1a1a1a" />
<line x1="481.00" y1="507.70" x2="481.00" y2="522.85" stroke="#1a1a1a" stroke-width="1.1" />
<line x1="474.60" y1="507.70" x2="487.40" y2="507.70" stroke="#1a1a1a" stroke-width="1.1" />
<rect x="478.60" y="498.60" width="4.40" height="4.40" fill="#1a1a1a" />
<rect x="478.60" y="506.60" width="4.40" height="4.40" fill="#1a1a1a" />
<rect x="478.60" y="510.40" width="4.40" height="4.40" fill="#1a1a1a" />
<rect x="478.60" y="514.40" width="4.40" height="4.40" fill="#1a1a1a" />
<rect x="471.70" y="526.20" width="4.40" height="4.40" fill="#1a1a1a" />
<rect x="471.70" y="536.50" width="4.40" height="4.40" fill="#1a1a1a" />
<rect x="485.50" y="528.80" width="4.40" height="4.40" fill="#1a1a1a" />
<rect x="485.50" y="534.70" width="4.40" height="4.40" fill="#1a1a1a" />
<text transform="translate(481.00,496.20)" font-size="6.3" text-anchor="middle" fill="#222" font-weight="normal" font-style="normal" >****</text>
<text transform="translate(397.40,511.50) rotate(-90) scale(0.6735,1)" font-size="7.8" text-anchor="middle" fill="#111" stroke="#111" stroke-width="0.18" stroke-linejoin="round">Percent of CFU</text>
<rect x="0.5" y="0.5" width="519" height="586" fill="none" stroke="#646464" stroke-width="1"/>
</svg>
</body></html>
